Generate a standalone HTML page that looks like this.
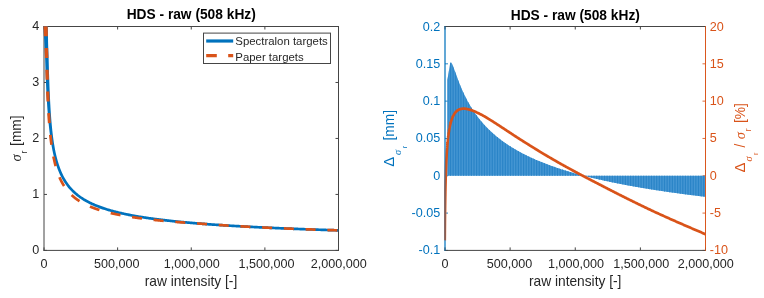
<!DOCTYPE html>
<html><head><meta charset="utf-8"><title>HDS - raw (508 kHz)</title>
<style>html,body{margin:0;padding:0;background:#fff}body{width:764px;height:298px;overflow:hidden}</style></head>
<body>
<svg width="764" height="298" viewBox="0 0 764 298" style="display:block">
<rect width="764" height="298" fill="#fff"/>
<defs>
<clipPath id="cl"><rect x="43.2" y="26.1" width="295.3" height="224.3"/></clipPath>
<clipPath id="cr"><rect x="444.2" y="26.0" width="261.3" height="224.4"/></clipPath>
<clipPath id="bars"><path d="M447.40 175.77 L447.40 80.00 L448.70 72.00 L450.10 63.60 L450.70 62.40 L451.20 62.60 L451.68 63.16 L451.77 63.33 L452.41 64.64 L453.04 66.16 L453.68 67.81 L454.32 69.53 L454.95 71.28 L455.59 73.05 L456.22 74.82 L456.86 76.56 L457.50 78.29 L458.13 79.98 L458.77 81.64 L459.40 83.27 L460.04 84.86 L460.68 86.41 L461.31 87.93 L461.95 89.41 L462.58 90.85 L463.22 92.26 L463.86 93.63 L464.49 94.97 L465.13 96.28 L465.76 97.56 L466.40 98.80 L467.03 100.02 L467.67 101.21 L468.31 102.37 L468.94 103.50 L469.58 104.61 L470.21 105.69 L470.85 106.75 L471.49 107.79 L472.12 108.80 L472.76 109.79 L473.39 110.77 L474.03 111.72 L474.67 112.65 L475.30 113.57 L475.94 114.46 L476.57 115.34 L477.21 116.20 L477.85 117.05 L478.48 117.88 L479.12 118.69 L479.75 119.49 L480.39 120.27 L481.02 121.04 L481.66 121.80 L482.30 122.54 L482.93 123.28 L483.57 123.99 L484.20 124.70 L484.84 125.40 L485.48 126.08 L486.11 126.75 L486.75 127.41 L487.38 128.07 L488.02 128.71 L488.66 129.34 L489.29 129.96 L489.93 130.57 L490.56 131.18 L491.20 131.77 L491.84 132.36 L492.47 132.93 L493.11 133.50 L493.74 134.06 L494.38 134.62 L495.01 135.16 L495.65 135.70 L496.29 136.23 L496.92 136.76 L497.56 137.27 L498.19 137.78 L498.83 138.29 L499.47 138.78 L500.10 139.27 L500.74 139.76 L501.37 140.24 L502.01 140.71 L502.65 141.18 L503.28 141.64 L503.92 142.09 L504.55 142.54 L505.19 142.99 L505.83 143.43 L506.46 143.86 L507.10 144.29 L507.73 144.71 L508.37 145.13 L509.00 145.55 L509.64 145.96 L510.28 146.37 L510.91 146.77 L511.55 147.16 L512.18 147.56 L512.82 147.94 L513.46 148.33 L514.09 148.71 L514.73 149.09 L515.36 149.46 L516.00 149.83 L516.64 150.19 L517.27 150.55 L517.91 150.91 L518.54 151.26 L519.18 151.61 L519.82 151.96 L520.45 152.31 L521.09 152.65 L521.72 152.98 L522.36 153.32 L522.99 153.65 L523.63 153.98 L524.27 154.30 L524.90 154.62 L525.54 154.94 L526.17 155.26 L526.81 155.57 L527.45 155.88 L528.08 156.19 L528.72 156.49 L529.35 156.79 L529.99 157.09 L530.63 157.39 L531.26 157.68 L531.90 157.97 L532.53 158.26 L533.17 158.55 L533.81 158.83 L534.44 159.11 L535.08 159.39 L535.71 159.67 L536.35 159.95 L536.98 160.22 L537.62 160.49 L538.26 160.76 L538.89 161.02 L539.53 161.29 L540.16 161.55 L540.80 161.81 L541.44 162.07 L542.07 162.32 L542.71 162.58 L543.34 162.83 L543.98 163.08 L544.62 163.32 L545.25 163.57 L545.89 163.82 L546.52 164.06 L547.16 164.30 L547.79 164.54 L548.43 164.77 L549.07 165.01 L549.70 165.24 L550.34 165.48 L550.97 165.71 L551.61 165.93 L552.25 166.16 L552.88 166.39 L553.52 166.61 L554.15 166.83 L554.79 167.05 L555.43 167.27 L556.06 167.49 L556.70 167.71 L557.33 167.92 L557.97 168.13 L558.61 168.35 L559.24 168.56 L559.88 168.77 L560.51 168.97 L561.15 169.18 L561.78 169.38 L562.42 169.59 L563.06 169.79 L563.69 169.99 L564.33 170.19 L564.96 170.39 L565.60 170.59 L566.24 170.78 L566.87 170.98 L567.51 171.17 L568.14 171.36 L568.78 171.55 L569.42 171.74 L570.05 171.93 L570.69 172.12 L571.32 172.30 L571.96 172.49 L572.60 172.67 L573.23 172.86 L573.87 173.04 L574.50 173.22 L575.14 173.40 L575.77 173.58 L576.41 173.75 L577.05 173.93 L577.68 174.11 L578.32 174.28 L578.95 174.45 L579.59 174.63 L580.23 174.80 L580.86 174.97 L581.50 175.14 L582.13 175.31 L582.77 175.47 L583.41 175.64 L584.04 175.81 L584.68 175.97 L585.31 176.13 L585.95 176.30 L586.59 176.46 L587.22 176.62 L587.86 176.78 L588.49 176.94 L589.13 177.10 L589.76 177.26 L590.40 177.41 L591.04 177.57 L591.67 177.72 L592.31 177.88 L592.94 178.03 L593.58 178.18 L594.22 178.34 L594.85 178.49 L595.49 178.64 L596.12 178.79 L596.76 178.94 L597.40 179.08 L598.03 179.23 L598.67 179.38 L599.30 179.52 L599.94 179.67 L600.58 179.81 L601.21 179.96 L601.85 180.10 L602.48 180.24 L603.12 180.38 L603.75 180.52 L604.39 180.66 L605.03 180.80 L605.66 180.94 L606.30 181.08 L606.93 181.22 L607.57 181.35 L608.21 181.49 L608.84 181.62 L609.48 181.76 L610.11 181.89 L610.75 182.03 L611.39 182.16 L612.02 182.29 L612.66 182.42 L613.29 182.55 L613.93 182.68 L614.57 182.81 L615.20 182.94 L615.84 183.07 L616.47 183.20 L617.11 183.33 L617.74 183.45 L618.38 183.58 L619.02 183.70 L619.65 183.83 L620.29 183.95 L620.92 184.08 L621.56 184.20 L622.20 184.32 L622.83 184.45 L623.47 184.57 L624.10 184.69 L624.74 184.81 L625.38 184.93 L626.01 185.05 L626.65 185.17 L627.28 185.29 L627.92 185.40 L628.56 185.52 L629.19 185.64 L629.83 185.75 L630.46 185.87 L631.10 185.99 L631.73 186.10 L632.37 186.21 L633.01 186.33 L633.64 186.44 L634.28 186.56 L634.91 186.67 L635.55 186.78 L636.19 186.89 L636.82 187.00 L637.46 187.11 L638.09 187.22 L638.73 187.33 L639.37 187.44 L640.00 187.55 L640.64 187.66 L641.27 187.77 L641.91 187.88 L642.55 187.98 L643.18 188.09 L643.82 188.20 L644.45 188.30 L645.09 188.41 L645.72 188.51 L646.36 188.62 L647.00 188.72 L647.63 188.82 L648.27 188.93 L648.90 189.03 L649.54 189.13 L650.18 189.24 L650.81 189.34 L651.45 189.44 L652.08 189.54 L652.72 189.64 L653.36 189.74 L653.99 189.84 L654.63 189.94 L655.26 190.04 L655.90 190.14 L656.54 190.24 L657.17 190.33 L657.81 190.43 L658.44 190.53 L659.08 190.62 L659.71 190.72 L660.35 190.82 L660.99 190.91 L661.62 191.01 L662.26 191.10 L662.89 191.20 L663.53 191.29 L664.17 191.39 L664.80 191.48 L665.44 191.57 L666.07 191.67 L666.71 191.76 L667.35 191.85 L667.98 191.94 L668.62 192.03 L669.25 192.13 L669.89 192.22 L670.53 192.31 L671.16 192.40 L671.80 192.49 L672.43 192.58 L673.07 192.67 L673.70 192.76 L674.34 192.85 L674.98 192.93 L675.61 193.02 L676.25 193.11 L676.88 193.20 L677.52 193.28 L678.16 193.37 L678.79 193.46 L679.43 193.54 L680.06 193.63 L680.70 193.72 L681.34 193.80 L681.97 193.89 L682.61 193.97 L683.24 194.06 L683.88 194.14 L684.52 194.22 L685.15 194.31 L685.79 194.39 L686.42 194.47 L687.06 194.56 L687.69 194.64 L688.33 194.72 L688.97 194.80 L689.60 194.89 L690.24 194.97 L690.87 195.05 L691.51 195.13 L692.15 195.21 L692.78 195.29 L693.42 195.37 L694.05 195.45 L694.69 195.53 L695.33 195.61 L695.96 195.69 L696.60 195.77 L697.23 195.85 L697.87 195.93 L698.51 196.00 L699.14 196.08 L699.78 196.16 L700.41 196.24 L701.05 196.31 L701.68 196.39 L702.32 196.47 L702.96 196.54 L703.59 196.62 L704.23 196.70 L704.86 196.77 L705.50 196.85 L705.50 175.77Z"/></clipPath>
</defs>
<g id="left-axes">
<path d="M44.0 26.0V250.9" stroke="#454545" stroke-width="1.00" fill="none"/>
<path d="M338.5 26.0V250.9" stroke="#454545" stroke-width="1.00" fill="none"/>
<path d="M44.0 250.40h3 M44.0 194.43h3 M44.0 138.45h3 M44.0 82.47h3 M44.0 26.50h3 " stroke="#454545" stroke-width="1.00" fill="none"/>
<path d="M338.5 250.40h-3 M338.5 194.43h-3 M338.5 138.45h-3 M338.5 82.47h-3 M338.5 26.50h-3 " stroke="#454545" stroke-width="1.00" fill="none"/>
<path d="M43.5 250.4H339.0 M43.5 26.5H339.0" stroke="#454545" stroke-width="1.00" fill="none"/>
<path d="M44.00 250.4v-3 M44.00 26.5v3 M117.62 250.4v-3 M117.62 26.5v3 M191.25 250.4v-3 M191.25 26.5v3 M264.88 250.4v-3 M264.88 26.5v3 M338.50 250.4v-3 M338.50 26.5v3 " stroke="#454545" stroke-width="1.00" fill="none"/>
</g>
<g clip-path="url(#cl)" stroke="none">
<path d="M42.53 -32.11 L42.57 -26.91 L42.62 -22.00 L42.66 -17.34 L42.71 -12.91 L42.75 -8.70 L42.80 -4.69 L42.85 -0.86 L42.89 2.80 L42.94 6.31 L42.98 9.66 L43.03 12.88 L43.07 15.98 L43.12 18.95 L43.16 21.81 L43.21 24.57 L43.31 27.23 L43.47 29.79 L43.63 32.27 L43.81 34.66 L44.00 36.98 L44.17 39.22 L44.33 41.39 L44.43 43.49 L44.52 45.53 L44.60 47.52 L44.69 49.44 L44.77 51.31 L44.86 53.13 L44.94 54.90 L45.02 56.62 L45.10 58.29 L45.18 59.93 L45.22 61.52 L45.27 63.07 L45.32 64.58 L45.36 66.06 L45.41 67.50 L45.45 68.91 L45.50 70.28 L45.55 71.63 L45.59 72.94 L45.64 74.23 L45.68 75.48 L45.73 76.71 L45.77 77.92 L45.82 79.10 L45.87 80.25 L45.91 81.38 L45.96 82.49 L46.00 83.58 L46.05 84.65 L46.09 85.69 L46.14 86.72 L46.19 87.72 L46.23 88.71 L46.28 89.68 L46.32 90.63 L46.37 91.57 L46.41 92.49 L46.46 93.39 L46.51 94.28 L46.55 95.15 L46.60 96.01 L46.65 96.85 L46.70 97.68 L46.74 98.50 L46.79 99.30 L46.84 100.09 L46.89 100.87 L46.93 101.63 L46.98 102.39 L47.02 103.13 L47.07 103.86 L47.12 104.58 L47.16 105.29 L47.21 105.99 L47.26 106.68 L47.30 107.36 L47.35 108.03 L47.40 108.68 L47.44 109.34 L47.49 109.98 L47.54 110.61 L47.58 111.23 L47.63 111.85 L47.67 112.46 L47.72 113.06 L47.77 113.65 L47.81 114.23 L47.86 114.81 L47.91 115.38 L47.95 115.94 L48.00 116.49 L48.04 117.04 L48.09 117.58 L48.14 118.12 L48.18 118.65 L48.23 119.17 L48.28 119.68 L48.32 120.19 L48.37 120.70 L48.41 121.19 L48.46 121.69 L48.51 122.17 L48.55 122.65 L48.60 123.13 L48.64 123.60 L48.69 124.06 L48.74 124.52 L48.78 124.97 L48.83 125.42 L48.87 125.87 L48.92 126.31 L48.97 126.74 L49.01 127.17 L49.06 127.60 L49.11 128.02 L49.15 128.44 L49.20 128.85 L49.24 129.26 L49.29 129.66 L49.34 130.07 L49.38 130.46 L49.43 130.85 L49.47 131.24 L49.52 131.63 L49.57 132.01 L49.61 132.39 L49.66 132.76 L49.70 133.13 L49.75 133.50 L49.80 133.86 L49.84 134.22 L49.89 134.58 L49.93 134.93 L49.98 135.28 L50.03 135.63 L50.07 135.97 L50.12 136.31 L50.16 136.65 L50.21 136.98 L50.26 137.31 L50.30 137.64 L50.35 137.97 L50.39 138.29 L50.44 138.61 L50.49 138.93 L50.53 139.24 L50.58 139.55 L50.62 139.86 L50.67 140.17 L50.72 140.47 L50.76 140.77 L50.81 141.07 L50.85 141.37 L50.90 141.66 L50.95 141.96 L50.99 142.24 L51.04 142.53 L51.08 142.82 L51.13 143.10 L51.18 143.38 L51.22 143.66 L51.27 143.93 L51.31 144.21 L51.36 144.48 L51.41 144.75 L51.45 145.01 L51.50 145.28 L51.54 145.54 L51.59 145.81 L51.64 146.06 L51.68 146.32 L51.73 146.58 L51.77 146.83 L51.82 147.08 L51.87 147.33 L51.91 147.58 L51.96 147.83 L52.00 148.07 L52.05 148.31 L52.10 148.56 L52.14 148.80 L52.19 149.03 L52.23 149.27 L52.28 149.50 L52.33 149.74 L52.37 149.97 L52.42 150.20 L52.46 150.42 L52.51 150.65 L52.55 150.88 L52.60 151.10 L52.65 151.32 L52.69 151.54 L52.74 151.76 L52.78 151.98 L52.83 152.20 L52.87 152.41 L52.92 152.62 L52.97 152.84 L53.01 153.05 L53.06 153.25 L53.10 153.46 L53.15 153.67 L53.19 153.87 L53.24 154.08 L53.29 154.28 L53.33 154.48 L53.38 154.68 L53.42 154.88 L53.47 155.08 L53.51 155.28 L53.56 155.47 L53.61 155.66 L53.65 155.86 L53.70 156.05 L53.74 156.24 L53.79 156.43 L53.83 156.62 L53.88 156.80 L53.93 156.99 L53.97 157.17 L54.02 157.36 L54.06 157.54 L54.11 157.72 L54.15 157.90 L54.20 158.08 L54.25 158.26 L54.29 158.44 L54.34 158.61 L54.38 158.79 L54.43 158.96 L54.48 159.14 L54.52 159.31 L54.57 159.48 L54.61 159.65 L54.66 159.82 L54.70 159.99 L54.75 160.16 L54.80 160.32 L54.84 160.49 L54.89 160.65 L54.93 160.82 L54.98 160.98 L55.02 161.14 L55.07 161.30 L55.12 161.46 L55.16 161.62 L55.21 161.78 L55.25 161.94 L55.30 162.10 L55.35 162.25 L55.39 162.41 L55.44 162.56 L55.48 162.72 L55.53 162.87 L55.58 163.02 L55.62 163.17 L55.67 163.32 L55.71 163.47 L55.76 163.62 L55.80 163.77 L55.85 163.92 L55.90 164.07 L55.94 164.21 L55.99 164.36 L56.03 164.50 L56.08 164.65 L56.13 164.79 L56.17 164.93 L56.22 165.07 L56.26 165.21 L56.31 165.35 L56.36 165.49 L56.40 165.63 L56.45 165.77 L56.49 165.91 L56.54 166.05 L56.59 166.18 L56.63 166.32 L56.68 166.45 L56.72 166.59 L56.77 166.72 L56.82 166.85 L56.86 166.99 L56.91 167.12 L56.95 167.25 L57.00 167.38 L57.04 167.51 L57.09 167.64 L57.14 167.77 L57.18 167.90 L57.23 168.02 L57.27 168.15 L57.32 168.28 L57.37 168.40 L57.41 168.53 L57.46 168.67 L58.17 170.51 L58.88 172.25 L59.60 173.88 L60.31 175.42 L61.03 176.86 L61.74 178.23 L62.46 179.53 L63.18 180.75 L63.89 181.92 L64.61 183.03 L65.33 184.09 L66.05 185.10 L66.77 186.07 L67.48 186.99 L68.20 187.88 L68.92 188.73 L69.64 189.55 L70.36 190.33 L71.08 191.09 L71.80 191.81 L72.52 192.52 L73.23 193.19 L73.95 193.85 L74.67 194.48 L75.39 195.09 L76.11 195.68 L76.82 196.25 L77.54 196.81 L78.26 197.35 L78.97 197.87 L79.69 198.38 L80.41 198.87 L81.12 199.35 L81.84 199.81 L82.55 200.26 L83.27 200.70 L83.98 201.13 L84.70 201.55 L85.41 201.96 L86.12 202.35 L86.84 202.74 L87.55 203.12 L88.26 203.49 L88.97 203.85 L89.69 204.20 L90.40 204.54 L91.11 204.88 L91.82 205.20 L92.53 205.53 L93.24 205.84 L93.95 206.15 L94.66 206.45 L95.37 206.74 L96.08 207.03 L96.79 207.32 L97.50 207.59 L98.21 207.87 L98.92 208.13 L99.63 208.40 L100.34 208.65 L101.05 208.91 L101.76 209.15 L102.46 209.40 L103.17 209.64 L103.88 209.87 L104.59 210.10 L105.30 210.33 L106.00 210.55 L106.71 210.77 L107.42 210.98 L108.13 211.20 L108.83 211.40 L109.54 211.61 L110.25 211.81 L110.95 212.01 L111.66 212.20 L112.36 212.40 L113.07 212.59 L113.78 212.77 L114.48 212.96 L115.19 213.14 L115.89 213.32 L116.60 213.49 L117.31 213.67 L118.01 213.84 L118.72 214.00 L119.42 214.17 L120.13 214.33 L120.83 214.50 L121.54 214.65 L122.24 214.81 L122.95 214.97 L123.65 215.12 L124.36 215.27 L125.06 215.42 L125.77 215.57 L126.47 215.71 L127.17 215.86 L127.88 216.00 L128.58 216.14 L129.29 216.27 L129.99 216.41 L130.70 216.55 L131.40 216.68 L132.10 216.81 L132.81 216.94 L133.51 217.07 L134.22 217.20 L134.92 217.32 L135.62 217.44 L136.33 217.57 L137.03 217.69 L137.73 217.81 L138.44 217.93 L139.14 218.04 L139.84 218.16 L140.55 218.27 L141.25 218.39 L141.96 218.50 L142.66 218.61 L143.36 218.72 L144.07 218.83 L144.77 218.94 L145.47 219.04 L146.17 219.15 L146.88 219.25 L147.58 219.36 L148.28 219.46 L148.99 219.56 L149.69 219.66 L150.39 219.76 L151.10 219.86 L151.80 219.95 L152.50 220.05 L153.21 220.15 L153.91 220.24 L154.61 220.33 L155.31 220.43 L156.02 220.52 L156.72 220.61 L157.42 220.70 L158.12 220.79 L158.83 220.88 L159.53 220.96 L160.23 221.05 L160.94 221.14 L161.64 221.22 L162.34 221.31 L163.04 221.39 L163.75 221.47 L164.45 221.55 L165.15 221.64 L165.85 221.72 L166.56 221.80 L167.26 221.88 L167.96 221.96 L168.66 222.03 L169.37 222.11 L170.07 222.19 L170.77 222.26 L171.47 222.34 L172.18 222.41 L172.88 222.49 L173.58 222.56 L174.28 222.64 L174.98 222.71 L175.69 222.78 L176.39 222.85 L177.09 222.92 L177.79 222.99 L178.50 223.06 L179.20 223.13 L179.90 223.20 L180.60 223.27 L181.30 223.34 L182.01 223.40 L182.71 223.47 L183.41 223.54 L184.11 223.60 L184.82 223.67 L185.52 223.73 L186.22 223.80 L186.92 223.86 L187.62 223.92 L188.33 223.98 L189.03 224.05 L189.73 224.11 L190.43 224.17 L191.13 224.23 L191.84 224.29 L192.54 224.35 L193.24 224.41 L193.94 224.47 L194.64 224.53 L195.35 224.59 L196.05 224.65 L196.75 224.70 L197.45 224.76 L198.15 224.82 L198.86 224.87 L199.56 224.93 L200.26 224.99 L200.96 225.04 L201.66 225.10 L202.36 225.15 L203.07 225.21 L203.77 225.26 L204.47 225.31 L205.17 225.37 L205.87 225.42 L206.58 225.47 L207.28 225.52 L207.98 225.57 L208.68 225.63 L209.38 225.68 L210.08 225.73 L210.79 225.78 L211.49 225.83 L212.19 225.88 L212.89 225.93 L213.59 225.98 L214.30 226.03 L215.00 226.08 L215.70 226.12 L216.40 226.17 L217.10 226.22 L217.80 226.27 L218.51 226.31 L219.21 226.36 L219.91 226.41 L220.61 226.45 L221.31 226.50 L222.01 226.55 L222.72 226.59 L223.42 226.64 L224.12 226.68 L224.82 226.73 L225.52 226.77 L226.22 226.82 L226.93 226.86 L227.63 226.90 L228.33 226.95 L229.03 226.99 L229.73 227.03 L230.43 227.08 L231.14 227.12 L231.84 227.16 L232.54 227.20 L233.24 227.24 L233.94 227.29 L234.64 227.33 L235.35 227.37 L236.05 227.41 L236.75 227.45 L237.45 227.49 L238.15 227.53 L238.85 227.57 L239.56 227.61 L240.26 227.65 L240.96 227.69 L241.66 227.73 L242.36 227.77 L243.06 227.81 L243.77 227.84 L244.47 227.88 L245.17 227.92 L245.87 227.96 L246.57 228.00 L247.27 228.03 L247.97 228.07 L248.68 228.11 L249.38 228.15 L250.08 228.18 L250.78 228.22 L251.48 228.26 L252.18 228.29 L252.89 228.33 L253.59 228.36 L254.29 228.40 L254.99 228.44 L255.69 228.47 L256.39 228.51 L257.09 228.54 L257.80 228.58 L258.50 228.61 L259.20 228.64 L259.90 228.68 L260.60 228.71 L261.30 228.75 L262.01 228.78 L262.71 228.81 L263.41 228.85 L264.11 228.88 L264.81 228.91 L265.51 228.95 L266.21 228.98 L266.92 229.01 L267.62 229.05 L268.32 229.08 L269.02 229.11 L269.72 229.14 L270.42 229.17 L271.12 229.21 L271.83 229.24 L272.53 229.27 L273.23 229.30 L273.93 229.33 L274.63 229.36 L275.33 229.39 L276.03 229.42 L276.74 229.46 L277.44 229.49 L278.14 229.52 L278.84 229.55 L279.54 229.58 L280.24 229.61 L280.95 229.64 L281.65 229.67 L282.35 229.70 L283.05 229.73 L283.75 229.75 L284.45 229.78 L285.15 229.81 L285.86 229.84 L286.56 229.87 L287.26 229.90 L287.96 229.93 L288.66 229.96 L289.36 229.98 L290.06 230.01 L290.77 230.04 L291.47 230.07 L292.17 230.10 L292.87 230.12 L293.57 230.15 L294.27 230.18 L294.97 230.21 L295.68 230.23 L296.38 230.26 L297.08 230.29 L297.78 230.32 L298.48 230.34 L299.18 230.37 L299.88 230.40 L300.58 230.42 L301.29 230.45 L301.99 230.47 L302.69 230.50 L303.39 230.53 L304.09 230.55 L304.79 230.58 L305.49 230.60 L306.20 230.63 L306.90 230.66 L307.60 230.68 L308.30 230.71 L309.00 230.73 L309.70 230.76 L310.40 230.78 L311.11 230.81 L311.81 230.83 L312.51 230.86 L313.21 230.88 L313.91 230.91 L314.61 230.93 L315.31 230.95 L316.02 230.98 L316.72 231.00 L317.42 231.03 L318.12 231.05 L318.82 231.08 L319.52 231.10 L320.22 231.12 L320.92 231.15 L321.63 231.17 L322.33 231.19 L323.03 231.22 L323.73 231.24 L324.43 231.26 L325.13 231.29 L325.83 231.31 L326.54 231.33 L327.24 231.36 L327.94 231.38 L328.64 231.40 L329.34 231.42 L330.04 231.45 L330.74 231.47 L331.45 231.49 L332.15 231.51 L332.85 231.54 L333.55 231.56 L334.25 231.58 L334.95 231.60 L335.65 231.62 L336.35 231.65 L337.06 231.67 L337.76 231.69 L338.46 231.71 L338.54 229.01 L337.84 228.99 L337.14 228.97 L336.44 228.95 L335.74 228.92 L335.04 228.90 L334.34 228.88 L333.63 228.86 L332.93 228.84 L332.23 228.81 L331.53 228.79 L330.83 228.77 L330.13 228.75 L329.43 228.72 L328.73 228.70 L328.03 228.68 L327.32 228.66 L326.62 228.63 L325.92 228.61 L325.22 228.59 L324.52 228.56 L323.82 228.54 L323.12 228.52 L322.42 228.50 L321.72 228.47 L321.02 228.45 L320.31 228.42 L319.61 228.40 L318.91 228.38 L318.21 228.35 L317.51 228.33 L316.81 228.30 L316.11 228.28 L315.41 228.26 L314.71 228.23 L314.01 228.21 L313.30 228.18 L312.60 228.16 L311.90 228.13 L311.20 228.11 L310.50 228.08 L309.80 228.06 L309.10 228.03 L308.40 228.01 L307.70 227.98 L307.00 227.96 L306.29 227.93 L305.59 227.91 L304.89 227.88 L304.19 227.86 L303.49 227.83 L302.79 227.80 L302.09 227.78 L301.39 227.75 L300.69 227.72 L299.99 227.70 L299.28 227.67 L298.58 227.64 L297.88 227.62 L297.18 227.59 L296.48 227.56 L295.78 227.54 L295.08 227.51 L294.38 227.48 L293.68 227.45 L292.98 227.43 L292.27 227.40 L291.57 227.37 L290.87 227.34 L290.17 227.32 L289.47 227.29 L288.77 227.26 L288.07 227.23 L287.37 227.20 L286.67 227.17 L285.97 227.14 L285.27 227.12 L284.56 227.09 L283.86 227.06 L283.16 227.03 L282.46 227.00 L281.76 226.97 L281.06 226.94 L280.36 226.91 L279.66 226.88 L278.96 226.85 L278.26 226.82 L277.55 226.79 L276.85 226.76 L276.15 226.73 L275.45 226.70 L274.75 226.67 L274.05 226.63 L273.35 226.60 L272.65 226.57 L271.95 226.54 L271.25 226.51 L270.55 226.48 L269.84 226.45 L269.14 226.41 L268.44 226.38 L267.74 226.35 L267.04 226.32 L266.34 226.28 L265.64 226.25 L264.94 226.22 L264.24 226.18 L263.54 226.15 L262.84 226.12 L262.14 226.08 L261.43 226.05 L260.73 226.02 L260.03 225.98 L259.33 225.95 L258.63 225.91 L257.93 225.88 L257.23 225.84 L256.53 225.81 L255.83 225.77 L255.13 225.74 L254.43 225.70 L253.72 225.67 L253.02 225.63 L252.32 225.60 L251.62 225.56 L250.92 225.52 L250.22 225.49 L249.52 225.45 L248.82 225.41 L248.12 225.38 L247.42 225.34 L246.72 225.30 L246.02 225.26 L245.31 225.23 L244.61 225.19 L243.91 225.15 L243.21 225.11 L242.51 225.07 L241.81 225.03 L241.11 224.99 L240.41 224.95 L239.71 224.91 L239.01 224.87 L238.31 224.83 L237.61 224.79 L236.91 224.75 L236.20 224.71 L235.50 224.67 L234.80 224.63 L234.10 224.59 L233.40 224.55 L232.70 224.51 L232.00 224.47 L231.30 224.42 L230.60 224.38 L229.90 224.34 L229.20 224.29 L228.50 224.25 L227.80 224.21 L227.09 224.16 L226.39 224.12 L225.69 224.08 L224.99 224.03 L224.29 223.99 L223.59 223.94 L222.89 223.90 L222.19 223.85 L221.49 223.81 L220.79 223.76 L220.09 223.71 L219.39 223.67 L218.69 223.62 L217.99 223.57 L217.29 223.53 L216.58 223.48 L215.88 223.43 L215.18 223.38 L214.48 223.33 L213.78 223.28 L213.08 223.24 L212.38 223.19 L211.68 223.14 L210.98 223.09 L210.28 223.04 L209.58 222.98 L208.88 222.93 L208.18 222.88 L207.48 222.83 L206.78 222.78 L206.08 222.73 L205.38 222.67 L204.67 222.62 L203.97 222.57 L203.27 222.51 L202.57 222.46 L201.87 222.40 L201.17 222.35 L200.47 222.29 L199.77 222.24 L199.07 222.18 L198.37 222.13 L197.67 222.07 L196.97 222.01 L196.27 221.96 L195.57 221.90 L194.87 221.84 L194.17 221.78 L193.47 221.72 L192.77 221.66 L192.07 221.60 L191.37 221.54 L190.67 221.48 L189.97 221.42 L189.27 221.36 L188.56 221.30 L187.86 221.23 L187.16 221.17 L186.46 221.11 L185.76 221.04 L185.06 220.98 L184.36 220.91 L183.66 220.85 L182.96 220.78 L182.26 220.72 L181.56 220.65 L180.86 220.58 L180.16 220.51 L179.46 220.44 L178.76 220.38 L178.06 220.31 L177.36 220.24 L176.66 220.17 L175.96 220.09 L175.26 220.02 L174.56 219.95 L173.86 219.88 L173.16 219.80 L172.46 219.73 L171.76 219.66 L171.06 219.58 L170.36 219.50 L169.66 219.43 L168.96 219.35 L168.26 219.27 L167.56 219.19 L166.86 219.11 L166.16 219.03 L165.46 218.95 L164.76 218.87 L164.06 218.79 L163.36 218.71 L162.66 218.62 L161.96 218.54 L161.26 218.46 L160.56 218.37 L159.86 218.28 L159.16 218.20 L158.46 218.11 L157.76 218.02 L157.06 217.93 L156.36 217.84 L155.66 217.75 L154.97 217.66 L154.27 217.56 L153.57 217.47 L152.87 217.37 L152.17 217.28 L151.47 217.18 L150.77 217.08 L150.07 216.99 L149.37 216.89 L148.67 216.79 L147.97 216.68 L147.27 216.58 L146.57 216.48 L145.87 216.37 L145.17 216.27 L144.48 216.16 L143.78 216.05 L143.08 215.94 L142.38 215.83 L141.68 215.72 L140.98 215.61 L140.28 215.50 L139.58 215.38 L138.88 215.26 L138.18 215.15 L137.49 215.03 L136.79 214.91 L136.09 214.79 L135.39 214.66 L134.69 214.54 L133.99 214.41 L133.29 214.28 L132.60 214.16 L131.90 214.03 L131.20 213.89 L130.50 213.76 L129.80 213.62 L129.11 213.49 L128.41 213.35 L127.71 213.21 L127.01 213.07 L126.31 212.92 L125.62 212.78 L124.92 212.63 L124.22 212.48 L123.52 212.33 L122.83 212.18 L122.13 212.02 L121.43 211.86 L120.73 211.70 L120.04 211.54 L119.34 211.38 L118.64 211.21 L117.94 211.04 L117.25 210.87 L116.55 210.70 L115.85 210.52 L115.16 210.34 L114.46 210.16 L113.77 209.98 L113.07 209.79 L112.37 209.60 L111.68 209.41 L110.98 209.21 L110.29 209.01 L109.59 208.81 L108.89 208.61 L108.20 208.40 L107.50 208.19 L106.81 207.97 L106.11 207.75 L105.42 207.53 L104.72 207.30 L104.03 207.07 L103.34 206.84 L102.64 206.60 L101.95 206.36 L101.25 206.11 L100.56 205.86 L99.87 205.60 L99.17 205.34 L98.48 205.08 L97.79 204.81 L97.09 204.53 L96.40 204.25 L95.71 203.96 L95.02 203.67 L94.33 203.37 L93.63 203.06 L92.94 202.75 L92.25 202.43 L91.56 202.10 L90.87 201.77 L90.18 201.43 L89.49 201.08 L88.80 200.72 L88.11 200.36 L87.42 199.99 L86.73 199.60 L86.05 199.21 L85.36 198.81 L84.67 198.40 L83.98 197.97 L83.29 197.54 L82.61 197.09 L81.92 196.63 L81.23 196.16 L80.55 195.68 L79.86 195.18 L79.18 194.66 L78.49 194.13 L77.81 193.58 L77.12 193.02 L76.44 192.44 L75.75 191.84 L75.07 191.21 L74.38 190.57 L73.70 189.90 L73.02 189.21 L72.33 188.49 L71.65 187.74 L70.97 186.97 L70.28 186.16 L69.60 185.31 L68.92 184.43 L68.23 183.51 L67.55 182.55 L66.86 181.54 L66.18 180.48 L65.49 179.37 L64.81 178.19 L64.12 176.95 L63.43 175.64 L62.75 174.25 L62.06 172.77 L61.37 171.20 L60.68 169.52 L59.99 167.70 L59.95 167.59 L59.90 167.47 L59.86 167.35 L59.81 167.23 L59.77 167.11 L59.72 166.98 L59.68 166.86 L59.63 166.73 L59.59 166.61 L59.54 166.48 L59.50 166.35 L59.46 166.23 L59.41 166.10 L59.37 165.97 L59.32 165.84 L59.28 165.71 L59.23 165.58 L59.19 165.45 L59.14 165.32 L59.10 165.18 L59.05 165.05 L59.01 164.92 L58.96 164.78 L58.92 164.65 L58.88 164.51 L58.83 164.38 L58.79 164.24 L58.74 164.10 L58.70 163.96 L58.65 163.82 L58.61 163.68 L58.56 163.54 L58.52 163.40 L58.47 163.26 L58.43 163.12 L58.38 162.97 L58.34 162.83 L58.29 162.68 L58.25 162.54 L58.20 162.39 L58.16 162.24 L58.11 162.09 L58.07 161.94 L58.03 161.79 L57.98 161.64 L57.94 161.49 L57.89 161.34 L57.85 161.19 L57.80 161.03 L57.76 160.88 L57.71 160.72 L57.67 160.56 L57.62 160.41 L57.58 160.25 L57.53 160.09 L57.49 159.93 L57.44 159.77 L57.40 159.61 L57.35 159.44 L57.31 159.28 L57.26 159.11 L57.22 158.95 L57.17 158.78 L57.13 158.61 L57.08 158.45 L57.04 158.28 L57.00 158.11 L56.95 157.93 L56.91 157.76 L56.86 157.59 L56.82 157.41 L56.77 157.24 L56.73 157.06 L56.68 156.88 L56.64 156.70 L56.59 156.52 L56.55 156.34 L56.50 156.16 L56.46 155.98 L56.41 155.79 L56.37 155.61 L56.32 155.42 L56.28 155.23 L56.23 155.04 L56.19 154.85 L56.14 154.66 L56.10 154.47 L56.05 154.27 L56.01 154.08 L55.96 153.88 L55.92 153.68 L55.87 153.49 L55.83 153.29 L55.78 153.08 L55.74 152.88 L55.69 152.68 L55.65 152.47 L55.60 152.26 L55.56 152.06 L55.51 151.85 L55.47 151.64 L55.42 151.42 L55.38 151.21 L55.33 150.99 L55.29 150.78 L55.24 150.56 L55.20 150.34 L55.15 150.12 L55.11 149.89 L55.07 149.67 L55.02 149.44 L54.98 149.21 L54.94 148.98 L54.89 148.75 L54.85 148.52 L54.81 148.29 L54.77 148.05 L54.72 147.81 L54.68 147.57 L54.64 147.33 L54.60 147.09 L54.55 146.84 L54.51 146.59 L54.47 146.35 L54.42 146.09 L54.38 145.84 L54.34 145.59 L54.30 145.33 L54.25 145.07 L54.21 144.81 L54.17 144.55 L54.13 144.29 L54.08 144.02 L54.04 143.75 L54.00 143.48 L53.96 143.21 L53.91 142.93 L53.87 142.65 L53.83 142.38 L53.79 142.09 L53.74 141.81 L53.70 141.52 L53.66 141.23 L53.62 140.94 L53.58 140.65 L53.53 140.35 L53.49 140.05 L53.45 139.75 L53.41 139.45 L53.36 139.14 L53.32 138.84 L53.28 138.52 L53.24 138.21 L53.20 137.89 L53.15 137.57 L53.11 137.25 L53.07 136.92 L53.03 136.60 L52.99 136.26 L52.94 135.93 L52.90 135.59 L52.86 135.25 L52.82 134.91 L52.78 134.56 L52.74 134.21 L52.69 133.86 L52.65 133.50 L52.61 133.14 L52.57 132.78 L52.53 132.41 L52.49 132.04 L52.44 131.66 L52.40 131.29 L52.36 130.90 L52.32 130.52 L52.28 130.13 L52.24 129.73 L52.19 129.34 L52.15 128.93 L52.11 128.53 L52.07 128.12 L52.03 127.70 L51.99 127.29 L51.95 126.86 L51.91 126.43 L51.87 126.00 L51.82 125.57 L51.78 125.12 L51.74 124.68 L51.70 124.23 L51.66 123.77 L51.62 123.31 L51.58 122.84 L51.54 122.37 L51.50 121.89 L51.46 121.41 L51.42 120.92 L51.38 120.42 L51.34 119.92 L51.30 119.42 L51.26 118.90 L51.21 118.38 L51.17 117.86 L51.13 117.33 L51.09 116.79 L51.05 116.24 L51.01 115.69 L50.97 115.13 L50.93 114.56 L50.89 113.99 L50.86 113.41 L50.82 112.82 L50.78 112.22 L50.74 111.62 L50.70 111.01 L50.66 110.38 L50.62 109.75 L50.58 109.11 L50.54 108.47 L50.50 107.81 L50.46 107.14 L50.42 106.47 L50.39 105.78 L50.35 105.08 L50.31 104.38 L50.27 103.66 L50.23 102.93 L50.19 102.19 L50.15 101.44 L50.12 100.68 L50.08 99.90 L50.04 99.12 L50.00 98.31 L49.96 97.50 L49.92 96.67 L49.89 95.83 L49.85 94.98 L49.81 94.11 L49.77 93.22 L49.73 92.32 L49.69 91.41 L49.64 90.47 L49.60 89.52 L49.56 88.56 L49.52 87.57 L49.48 86.57 L49.45 85.55 L49.41 84.50 L49.37 83.44 L49.33 82.35 L49.29 81.25 L49.25 80.12 L49.21 78.97 L49.17 77.79 L49.13 76.59 L49.09 75.36 L49.05 74.11 L49.02 72.82 L48.98 71.51 L48.94 70.17 L48.90 68.80 L48.86 67.39 L48.83 65.95 L48.79 64.48 L48.75 62.97 L48.71 61.42 L48.68 59.83 L48.62 58.20 L48.55 56.52 L48.49 54.81 L48.43 53.04 L48.37 51.22 L48.31 49.35 L48.24 47.43 L48.18 45.45 L48.11 43.41 L48.06 41.31 L48.04 39.14 L48.00 36.90 L47.96 34.58 L47.91 32.19 L47.84 29.71 L47.77 27.15 L47.71 24.49 L47.66 21.74 L47.62 18.88 L47.57 15.91 L47.53 12.82 L47.48 9.60 L47.44 6.25 L47.39 2.75 L47.34 -0.91 L47.30 -4.74 L47.25 -8.75 L47.21 -12.96 L47.16 -17.38 L47.12 -22.04 L47.07 -26.95 L47.03 -32.15Z" fill="#0072BD"/>
<path d="M42.53 -35.23 L42.53 -34.98 L42.53 -34.73 L42.53 -34.48 L42.54 -34.23 L42.54 -33.98 L42.54 -33.73 L42.54 -33.48 L42.54 -33.23 L42.55 -32.98 L42.55 -32.73 L42.55 -32.48 L42.55 -32.23 L42.55 -31.98 L42.56 -31.73 L42.56 -31.48 L42.56 -31.23 L42.56 -30.98 L42.56 -30.73 L42.56 -30.48 L42.57 -30.23 L42.57 -29.98 L42.57 -29.73 L42.57 -29.48 L42.57 -29.23 L42.58 -28.98 L47.08 -29.02 L47.07 -29.27 L47.07 -29.52 L47.07 -29.77 L47.07 -30.02 L47.07 -30.27 L47.06 -30.52 L47.06 -30.77 L47.06 -31.02 L47.06 -31.27 L47.06 -31.52 L47.05 -31.77 L47.05 -32.02 L47.05 -32.27 L47.05 -32.52 L47.05 -32.77 L47.05 -33.02 L47.04 -33.27 L47.04 -33.52 L47.04 -33.77 L47.04 -34.02 L47.04 -34.27 L47.03 -34.52 L47.03 -34.77 L47.03 -35.02 L47.03 -35.27Z M42.68 -17.23 L42.68 -16.98 L42.68 -16.73 L42.68 -16.48 L42.69 -16.23 L42.69 -15.98 L42.69 -15.73 L42.69 -15.48 L42.69 -15.23 L42.70 -14.98 L42.70 -14.73 L42.70 -14.48 L42.70 -14.23 L42.71 -13.98 L42.71 -13.73 L42.71 -13.48 L42.71 -13.23 L42.72 -12.98 L42.72 -12.73 L42.72 -12.48 L42.72 -12.23 L42.72 -11.98 L42.73 -11.73 L42.73 -11.48 L42.73 -11.23 L42.73 -10.98 L42.74 -10.73 L42.74 -10.48 L42.74 -10.23 L42.74 -9.98 L42.75 -9.73 L42.75 -9.48 L42.75 -9.23 L42.75 -8.98 L42.76 -8.73 L42.76 -8.48 L42.76 -8.23 L42.76 -7.98 L42.77 -7.73 L42.77 -7.48 L42.77 -7.23 L47.27 -7.27 L47.27 -7.52 L47.27 -7.77 L47.26 -8.02 L47.26 -8.27 L47.26 -8.52 L47.26 -8.77 L47.25 -9.02 L47.25 -9.27 L47.25 -9.52 L47.25 -9.77 L47.24 -10.02 L47.24 -10.27 L47.24 -10.52 L47.24 -10.77 L47.23 -11.02 L47.23 -11.27 L47.23 -11.52 L47.23 -11.77 L47.22 -12.02 L47.22 -12.27 L47.22 -12.52 L47.22 -12.77 L47.21 -13.02 L47.21 -13.27 L47.21 -13.52 L47.21 -13.77 L47.21 -14.02 L47.20 -14.27 L47.20 -14.52 L47.20 -14.77 L47.20 -15.02 L47.19 -15.27 L47.19 -15.52 L47.19 -15.77 L47.19 -16.02 L47.18 -16.27 L47.18 -16.52 L47.18 -16.77 L47.18 -17.02 L47.18 -17.27Z M42.90 4.52 L42.90 4.77 L42.90 5.02 L42.91 5.27 L42.91 5.52 L42.91 5.77 L42.91 6.02 L42.92 6.27 L42.92 6.52 L42.92 6.77 L42.93 7.02 L42.93 7.27 L42.93 7.52 L42.94 7.77 L42.94 8.03 L42.94 8.28 L42.94 8.53 L42.95 8.78 L42.95 9.03 L42.95 9.28 L42.96 9.53 L42.96 9.78 L42.96 10.03 L42.97 10.28 L42.97 10.52 L42.97 10.77 L42.97 11.02 L42.98 11.27 L42.98 11.53 L42.98 11.78 L42.99 12.03 L42.99 12.28 L42.99 12.53 L43.00 12.78 L43.00 13.03 L43.00 13.28 L43.01 13.53 L43.01 13.78 L43.01 14.03 L43.02 14.28 L43.02 14.53 L47.52 14.47 L47.52 14.22 L47.51 13.97 L47.51 13.72 L47.51 13.47 L47.50 13.22 L47.50 12.97 L47.50 12.72 L47.49 12.47 L47.49 12.22 L47.49 11.97 L47.48 11.72 L47.48 11.47 L47.48 11.22 L47.47 10.97 L47.47 10.72 L47.47 10.47 L47.47 10.22 L47.46 9.97 L47.46 9.72 L47.46 9.47 L47.45 9.22 L47.45 8.97 L47.45 8.72 L47.44 8.47 L47.44 8.22 L47.44 7.97 L47.43 7.72 L47.43 7.47 L47.43 7.22 L47.43 6.97 L47.42 6.72 L47.42 6.47 L47.42 6.22 L47.41 5.97 L47.41 5.72 L47.41 5.47 L47.41 5.22 L47.40 4.97 L47.40 4.72 L47.40 4.47Z M43.19 26.28 L43.21 26.53 L43.22 26.78 L43.24 27.03 L43.25 27.28 L43.27 27.53 L43.28 27.78 L43.30 28.03 L43.31 28.28 L43.33 28.53 L43.34 28.78 L43.36 29.03 L43.38 29.28 L43.39 29.53 L43.41 29.78 L43.42 30.03 L43.44 30.28 L43.45 30.53 L43.47 30.78 L43.48 31.03 L43.50 31.28 L43.51 31.53 L43.53 31.78 L43.54 32.03 L43.56 32.28 L43.58 32.53 L43.60 32.78 L43.62 33.03 L43.64 33.28 L43.66 33.53 L43.67 33.78 L43.69 34.03 L43.71 34.28 L43.73 34.53 L43.75 34.78 L43.77 35.03 L43.79 35.28 L43.81 35.53 L43.82 35.78 L43.84 36.03 L43.86 36.28 L47.91 36.21 L47.90 35.96 L47.90 35.71 L47.90 35.46 L47.89 35.21 L47.89 34.96 L47.88 34.71 L47.88 34.46 L47.88 34.21 L47.87 33.96 L47.87 33.71 L47.86 33.46 L47.86 33.21 L47.86 32.96 L47.85 32.71 L47.85 32.46 L47.85 32.21 L47.84 31.96 L47.84 31.71 L47.83 31.46 L47.82 31.21 L47.81 30.96 L47.81 30.71 L47.80 30.46 L47.79 30.21 L47.79 29.96 L47.78 29.71 L47.77 29.46 L47.77 29.21 L47.76 28.96 L47.75 28.71 L47.75 28.46 L47.74 28.21 L47.73 27.96 L47.73 27.71 L47.72 27.46 L47.71 27.21 L47.71 26.96 L47.70 26.71 L47.69 26.46 L47.68 26.21Z M44.51 48.03 L44.52 48.28 L44.53 48.53 L44.54 48.78 L44.55 49.03 L44.56 49.28 L44.57 49.53 L44.58 49.78 L44.60 50.03 L44.61 50.28 L44.62 50.53 L44.63 50.78 L44.64 51.03 L44.65 51.28 L44.66 51.53 L44.67 51.78 L44.68 52.03 L44.69 52.28 L44.70 52.53 L44.71 52.78 L44.72 53.03 L44.73 53.28 L44.74 53.53 L44.75 53.78 L44.76 54.03 L44.77 54.28 L44.78 54.53 L44.79 54.78 L44.80 55.03 L44.82 55.28 L44.83 55.53 L44.84 55.78 L44.85 56.03 L44.86 56.28 L44.87 56.53 L44.88 56.78 L44.89 57.03 L44.90 57.28 L44.91 57.53 L44.92 57.78 L44.93 58.03 L48.46 57.95 L48.45 57.70 L48.44 57.45 L48.43 57.20 L48.42 56.95 L48.42 56.70 L48.41 56.45 L48.40 56.20 L48.39 55.95 L48.38 55.70 L48.38 55.45 L48.37 55.20 L48.36 54.95 L48.35 54.70 L48.34 54.45 L48.34 54.20 L48.33 53.95 L48.32 53.70 L48.31 53.45 L48.30 53.20 L48.30 52.95 L48.29 52.70 L48.28 52.45 L48.27 52.20 L48.27 51.95 L48.26 51.70 L48.25 51.45 L48.24 51.20 L48.24 50.95 L48.23 50.70 L48.22 50.46 L48.21 50.21 L48.21 49.96 L48.20 49.71 L48.19 49.46 L48.18 49.21 L48.18 48.96 L48.17 48.71 L48.16 48.46 L48.15 48.21 L48.15 47.96Z M45.28 69.79 L45.29 70.04 L45.29 70.28 L45.30 70.53 L45.31 70.78 L45.32 71.03 L45.32 71.29 L45.33 71.54 L45.34 71.79 L45.34 72.04 L45.35 72.29 L45.36 72.54 L45.37 72.79 L45.37 73.04 L45.38 73.29 L45.39 73.54 L45.40 73.79 L45.40 74.04 L45.41 74.29 L45.42 74.54 L45.43 74.79 L45.43 75.04 L45.44 75.29 L45.45 75.54 L45.46 75.79 L45.47 76.04 L45.47 76.29 L45.48 76.54 L45.49 76.79 L45.50 77.04 L45.50 77.29 L45.51 77.54 L45.52 77.79 L45.53 78.04 L45.54 78.29 L45.55 78.54 L45.55 78.79 L45.56 79.04 L45.57 79.29 L45.58 79.54 L45.59 79.79 L48.97 79.68 L48.97 79.43 L48.96 79.18 L48.95 78.93 L48.94 78.68 L48.94 78.43 L48.93 78.18 L48.92 77.93 L48.92 77.68 L48.91 77.43 L48.90 77.18 L48.90 76.93 L48.89 76.68 L48.89 76.43 L48.88 76.18 L48.87 75.93 L48.87 75.68 L48.86 75.43 L48.85 75.18 L48.85 74.93 L48.84 74.68 L48.83 74.43 L48.83 74.18 L48.82 73.93 L48.82 73.68 L48.81 73.43 L48.80 73.18 L48.80 72.93 L48.79 72.69 L48.79 72.44 L48.78 72.19 L48.77 71.94 L48.77 71.69 L48.76 71.44 L48.76 71.19 L48.75 70.94 L48.75 70.69 L48.74 70.44 L48.73 70.19 L48.73 69.94 L48.72 69.69Z M46.02 91.54 L46.03 91.79 L46.04 92.04 L46.05 92.29 L46.06 92.54 L46.07 92.79 L46.08 93.04 L46.09 93.29 L46.10 93.54 L46.12 93.79 L46.13 94.04 L46.14 94.29 L46.15 94.54 L46.16 94.79 L46.17 95.04 L46.18 95.29 L46.19 95.54 L46.20 95.79 L46.22 96.04 L46.23 96.29 L46.24 96.54 L46.25 96.79 L46.26 97.04 L46.28 97.29 L46.29 97.54 L46.30 97.79 L46.31 98.04 L46.32 98.29 L46.34 98.54 L46.35 98.79 L46.36 99.04 L46.37 99.29 L46.39 99.54 L46.40 99.79 L46.41 100.04 L46.42 100.29 L46.44 100.54 L46.45 100.79 L46.46 101.04 L46.47 101.29 L46.49 101.54 L49.71 101.38 L49.70 101.14 L49.69 100.89 L49.68 100.64 L49.67 100.39 L49.66 100.14 L49.65 99.89 L49.64 99.64 L49.63 99.39 L49.62 99.14 L49.61 98.89 L49.60 98.64 L49.60 98.39 L49.59 98.14 L49.58 97.89 L49.57 97.64 L49.56 97.39 L49.55 97.15 L49.54 96.90 L49.53 96.65 L49.52 96.40 L49.51 96.15 L49.50 95.90 L49.49 95.65 L49.48 95.40 L49.48 95.15 L49.47 94.90 L49.46 94.65 L49.45 94.40 L49.44 94.15 L49.43 93.90 L49.42 93.65 L49.41 93.40 L49.40 93.15 L49.39 92.90 L49.38 92.65 L49.37 92.40 L49.36 92.16 L49.36 91.91 L49.35 91.66 L49.34 91.41Z M47.16 113.29 L47.17 113.54 L47.19 113.79 L47.20 114.04 L47.22 114.29 L47.24 114.54 L47.25 114.79 L47.27 115.04 L47.29 115.29 L47.30 115.54 L47.32 115.79 L47.34 116.04 L47.35 116.29 L47.37 116.54 L47.39 116.79 L47.41 117.04 L47.42 117.29 L47.44 117.54 L47.46 117.79 L47.48 118.04 L47.49 118.29 L47.51 118.54 L47.53 118.79 L47.55 119.04 L47.57 119.29 L47.58 119.54 L47.60 119.79 L47.62 120.04 L47.64 120.29 L47.66 120.54 L47.68 120.79 L47.70 121.04 L47.72 121.29 L47.73 121.54 L47.75 121.79 L47.77 122.04 L47.79 122.29 L47.81 122.54 L47.83 122.79 L47.85 123.04 L47.87 123.29 L50.85 123.06 L50.84 122.81 L50.82 122.56 L50.80 122.31 L50.79 122.06 L50.77 121.81 L50.75 121.56 L50.74 121.31 L50.72 121.06 L50.70 120.82 L50.69 120.57 L50.67 120.32 L50.66 120.07 L50.64 119.82 L50.63 119.57 L50.61 119.32 L50.59 119.07 L50.58 118.83 L50.56 118.58 L50.55 118.33 L50.53 118.08 L50.52 117.83 L50.50 117.58 L50.49 117.33 L50.47 117.08 L50.46 116.83 L50.45 116.59 L50.43 116.34 L50.42 116.09 L50.40 115.84 L50.39 115.59 L50.37 115.34 L50.36 115.09 L50.35 114.84 L50.33 114.59 L50.32 114.34 L50.30 114.10 L50.29 113.85 L50.28 113.60 L50.26 113.35 L50.25 113.10Z M48.95 135.02 L48.98 135.27 L49.01 135.52 L49.03 135.77 L49.06 136.02 L49.09 136.27 L49.11 136.52 L49.14 136.77 L49.17 137.02 L49.20 137.27 L49.23 137.52 L49.25 137.77 L49.28 138.01 L49.31 138.26 L49.34 138.51 L49.37 138.76 L49.40 139.01 L49.43 139.26 L49.46 139.51 L49.49 139.76 L49.52 140.01 L49.55 140.26 L49.58 140.51 L49.61 140.76 L49.64 141.01 L49.67 141.25 L49.70 141.50 L49.73 141.75 L49.76 142.00 L49.80 142.25 L49.83 142.50 L49.86 142.75 L49.89 143.00 L49.93 143.25 L49.96 143.50 L49.99 143.74 L50.03 143.99 L50.06 144.24 L50.09 144.49 L50.13 144.74 L50.16 144.99 L52.89 144.61 L52.86 144.37 L52.83 144.12 L52.80 143.87 L52.77 143.63 L52.74 143.38 L52.71 143.13 L52.68 142.89 L52.65 142.64 L52.62 142.39 L52.59 142.15 L52.56 141.90 L52.53 141.65 L52.50 141.41 L52.47 141.16 L52.45 140.91 L52.42 140.66 L52.39 140.42 L52.36 140.17 L52.34 139.92 L52.31 139.68 L52.28 139.43 L52.25 139.18 L52.23 138.93 L52.20 138.69 L52.17 138.44 L52.15 138.19 L52.12 137.94 L52.10 137.70 L52.07 137.45 L52.05 137.20 L52.02 136.95 L52.00 136.71 L51.97 136.46 L51.95 136.21 L51.92 135.96 L51.90 135.72 L51.87 135.47 L51.85 135.22 L51.83 134.97 L51.80 134.72Z M52.09 156.66 L52.13 156.90 L52.18 157.15 L52.23 157.40 L52.28 157.64 L52.33 157.89 L52.38 158.14 L52.43 158.38 L52.48 158.63 L52.54 158.88 L52.59 159.12 L52.64 159.37 L52.69 159.62 L52.75 159.86 L52.80 160.11 L52.86 160.36 L52.91 160.60 L52.97 160.85 L53.02 161.10 L53.08 161.34 L53.13 161.59 L53.19 161.83 L53.25 162.08 L53.31 162.33 L53.37 162.57 L53.42 162.82 L53.48 163.06 L53.54 163.31 L53.60 163.55 L53.66 163.80 L53.73 164.04 L53.79 164.29 L53.85 164.53 L53.91 164.78 L53.98 165.02 L54.04 165.27 L54.11 165.51 L54.17 165.76 L54.24 166.00 L54.30 166.25 L54.37 166.49 L56.97 165.78 L56.91 165.54 L56.84 165.30 L56.78 165.06 L56.71 164.82 L56.65 164.58 L56.59 164.34 L56.53 164.11 L56.47 163.87 L56.40 163.63 L56.34 163.39 L56.28 163.15 L56.22 162.91 L56.17 162.67 L56.11 162.43 L56.05 162.19 L55.99 161.95 L55.93 161.70 L55.88 161.46 L55.82 161.22 L55.77 160.98 L55.71 160.74 L55.65 160.50 L55.60 160.26 L55.55 160.02 L55.49 159.77 L55.44 159.53 L55.39 159.29 L55.33 159.05 L55.28 158.81 L55.23 158.56 L55.18 158.32 L55.13 158.08 L55.08 157.84 L55.03 157.59 L54.98 157.35 L54.93 157.11 L54.88 156.87 L54.83 156.62 L54.78 156.38 L54.73 156.13Z M58.25 177.78 L58.35 178.01 L58.45 178.24 L58.55 178.47 L58.66 178.70 L58.76 178.92 L58.86 179.16 L58.97 179.41 L59.08 179.64 L59.19 179.86 L59.30 180.09 L59.40 180.32 L59.51 180.54 L59.63 180.79 L59.74 181.02 L59.86 181.25 L59.97 181.47 L60.08 181.69 L60.19 181.92 L60.31 182.15 L60.44 182.39 L60.56 182.61 L60.68 182.83 L60.80 183.05 L60.91 183.27 L61.04 183.51 L61.17 183.74 L61.30 183.96 L61.42 184.17 L61.54 184.39 L61.67 184.61 L61.80 184.84 L61.94 185.07 L62.07 185.28 L62.20 185.50 L62.33 185.71 L62.46 185.94 L62.61 186.16 L62.74 186.38 L62.88 186.59 L63.01 186.80 L65.29 185.34 L65.15 185.13 L65.02 184.92 L64.88 184.71 L64.76 184.52 L64.64 184.31 L64.51 184.10 L64.38 183.89 L64.25 183.67 L64.13 183.47 L64.01 183.27 L63.89 183.05 L63.76 182.84 L63.64 182.62 L63.52 182.40 L63.40 182.20 L63.29 182.00 L63.17 181.78 L63.06 181.56 L62.94 181.33 L62.82 181.12 L62.71 180.91 L62.61 180.70 L62.49 180.48 L62.38 180.25 L62.27 180.03 L62.16 179.81 L62.05 179.60 L61.95 179.39 L61.84 179.16 L61.74 178.94 L61.63 178.71 L61.52 178.49 L61.42 178.27 L61.32 178.05 L61.23 177.84 L61.13 177.61 L61.03 177.38 L60.92 177.15 L60.82 176.92 L60.72 176.69Z M70.72 196.06 L70.91 196.23 L71.10 196.41 L71.29 196.59 L71.48 196.76 L71.66 196.93 L71.86 197.10 L72.06 197.27 L72.25 197.44 L72.44 197.60 L72.64 197.78 L72.84 197.94 L73.03 198.10 L73.23 198.27 L73.43 198.43 L73.63 198.59 L73.82 198.75 L74.03 198.91 L74.23 199.07 L74.43 199.23 L74.63 199.38 L74.84 199.54 L75.04 199.69 L75.24 199.84 L75.45 200.00 L75.66 200.15 L75.87 200.30 L76.07 200.45 L76.29 200.60 L76.50 200.75 L76.70 200.89 L76.91 201.04 L77.13 201.19 L77.34 201.33 L77.55 201.47 L77.77 201.62 L77.98 201.76 L78.19 201.89 L78.41 202.04 L78.62 202.17 L78.83 202.31 L80.28 200.03 L80.07 199.90 L79.87 199.77 L79.67 199.63 L79.46 199.50 L79.25 199.36 L79.05 199.23 L78.85 199.09 L78.65 198.95 L78.45 198.82 L78.25 198.68 L78.05 198.54 L77.84 198.40 L77.65 198.26 L77.45 198.12 L77.25 197.97 L77.06 197.83 L76.87 197.69 L76.67 197.54 L76.47 197.39 L76.28 197.24 L76.09 197.09 L75.89 196.94 L75.70 196.79 L75.52 196.64 L75.32 196.49 L75.13 196.33 L74.95 196.18 L74.76 196.03 L74.57 195.87 L74.38 195.71 L74.20 195.56 L74.02 195.40 L73.83 195.23 L73.65 195.08 L73.47 194.92 L73.29 194.75 L73.10 194.59 L72.93 194.43 L72.75 194.26 L72.57 194.09Z M89.46 207.79 L89.70 207.89 L89.93 207.99 L90.16 208.09 L90.40 208.18 L90.64 208.28 L90.87 208.37 L91.10 208.47 L91.34 208.56 L91.58 208.66 L91.81 208.75 L92.05 208.84 L92.28 208.93 L92.52 209.02 L92.76 209.11 L93.00 209.20 L93.23 209.29 L93.47 209.38 L93.71 209.47 L93.94 209.56 L94.18 209.64 L94.42 209.73 L94.66 209.81 L94.90 209.90 L95.14 209.98 L95.37 210.07 L95.62 210.15 L95.85 210.23 L96.09 210.32 L96.33 210.40 L96.57 210.48 L96.81 210.56 L97.05 210.64 L97.29 210.72 L97.53 210.80 L97.77 210.88 L98.01 210.95 L98.25 211.03 L98.49 211.11 L98.73 211.19 L98.97 211.26 L99.79 208.69 L99.55 208.61 L99.31 208.54 L99.08 208.46 L98.84 208.39 L98.61 208.31 L98.37 208.23 L98.14 208.16 L97.90 208.08 L97.67 208.00 L97.44 207.92 L97.20 207.84 L96.97 207.76 L96.73 207.68 L96.50 207.60 L96.27 207.52 L96.03 207.44 L95.80 207.35 L95.57 207.27 L95.34 207.19 L95.10 207.10 L94.87 207.02 L94.64 206.93 L94.41 206.85 L94.18 206.76 L93.95 206.68 L93.72 206.59 L93.49 206.50 L93.26 206.41 L93.02 206.32 L92.80 206.24 L92.57 206.14 L92.34 206.05 L92.11 205.96 L91.88 205.87 L91.65 205.78 L91.42 205.69 L91.20 205.59 L90.97 205.50 L90.74 205.40 L90.51 205.31Z M110.41 214.38 L110.65 214.43 L110.90 214.49 L111.14 214.55 L111.39 214.60 L111.63 214.66 L111.88 214.72 L112.12 214.77 L112.37 214.83 L112.61 214.88 L112.86 214.94 L113.10 214.99 L113.35 215.04 L113.59 215.10 L113.84 215.15 L114.09 215.21 L114.33 215.26 L114.58 215.31 L114.83 215.36 L115.07 215.42 L115.32 215.47 L115.56 215.52 L115.81 215.57 L116.06 215.62 L116.30 215.67 L116.55 215.72 L116.79 215.77 L117.04 215.82 L117.29 215.87 L117.53 215.92 L117.78 215.97 L118.03 216.02 L118.27 216.07 L118.52 216.12 L118.77 216.17 L119.01 216.22 L119.26 216.26 L119.51 216.31 L119.75 216.36 L120.00 216.41 L120.24 216.45 L120.75 213.80 L120.51 213.75 L120.26 213.71 L120.02 213.66 L119.77 213.61 L119.53 213.57 L119.28 213.52 L119.04 213.47 L118.80 213.42 L118.55 213.37 L118.31 213.33 L118.06 213.28 L117.82 213.23 L117.58 213.18 L117.33 213.13 L117.09 213.08 L116.85 213.03 L116.60 212.98 L116.36 212.93 L116.12 212.88 L115.87 212.83 L115.63 212.78 L115.39 212.72 L115.14 212.67 L114.90 212.62 L114.66 212.57 L114.42 212.51 L114.17 212.46 L113.93 212.41 L113.69 212.35 L113.45 212.30 L113.20 212.25 L112.96 212.19 L112.72 212.14 L112.48 212.08 L112.23 212.03 L111.99 211.97 L111.75 211.92 L111.51 211.86 L111.27 211.80 L111.02 211.75Z M131.88 218.43 L132.13 218.47 L132.37 218.50 L132.62 218.54 L132.87 218.58 L133.12 218.62 L133.37 218.65 L133.62 218.69 L133.86 218.73 L134.11 218.76 L134.36 218.80 L134.61 218.83 L134.86 218.87 L135.10 218.91 L135.35 218.94 L135.60 218.98 L135.85 219.01 L136.10 219.05 L136.35 219.08 L136.59 219.12 L136.84 219.15 L137.09 219.19 L137.34 219.22 L137.59 219.26 L137.84 219.29 L138.08 219.32 L138.33 219.36 L138.58 219.39 L138.83 219.43 L139.08 219.46 L139.33 219.49 L139.58 219.53 L139.82 219.56 L140.07 219.59 L140.32 219.62 L140.57 219.66 L140.82 219.69 L141.07 219.72 L141.32 219.75 L141.56 219.79 L141.81 219.82 L142.16 217.14 L141.91 217.11 L141.66 217.08 L141.42 217.05 L141.17 217.01 L140.92 216.98 L140.67 216.95 L140.43 216.92 L140.18 216.88 L139.93 216.85 L139.69 216.82 L139.44 216.78 L139.19 216.75 L138.94 216.72 L138.70 216.68 L138.45 216.65 L138.20 216.62 L137.96 216.58 L137.71 216.55 L137.46 216.51 L137.22 216.48 L136.97 216.44 L136.72 216.41 L136.48 216.37 L136.23 216.34 L135.98 216.30 L135.74 216.27 L135.49 216.23 L135.24 216.20 L135.00 216.16 L134.75 216.13 L134.50 216.09 L134.26 216.05 L134.01 216.02 L133.76 215.98 L133.52 215.95 L133.27 215.91 L133.02 215.87 L132.78 215.83 L132.53 215.80 L132.28 215.76Z M153.51 221.20 L153.76 221.22 L154.01 221.25 L154.26 221.28 L154.51 221.30 L154.75 221.33 L155.00 221.36 L155.25 221.38 L155.50 221.41 L155.75 221.43 L156.00 221.46 L156.25 221.49 L156.50 221.51 L156.75 221.54 L157.00 221.56 L157.25 221.59 L157.50 221.61 L157.74 221.64 L157.99 221.66 L158.24 221.69 L158.49 221.71 L158.74 221.74 L158.99 221.76 L159.24 221.79 L159.49 221.81 L159.74 221.84 L159.99 221.86 L160.24 221.89 L160.49 221.91 L160.73 221.94 L160.98 221.96 L161.23 221.99 L161.48 222.01 L161.73 222.03 L161.98 222.06 L162.23 222.08 L162.48 222.11 L162.73 222.13 L162.98 222.15 L163.23 222.18 L163.48 222.20 L163.73 219.51 L163.48 219.49 L163.23 219.46 L162.98 219.44 L162.74 219.42 L162.49 219.39 L162.24 219.37 L161.99 219.35 L161.74 219.32 L161.49 219.30 L161.25 219.27 L161.00 219.25 L160.75 219.23 L160.50 219.20 L160.25 219.18 L160.00 219.15 L159.76 219.13 L159.51 219.10 L159.26 219.08 L159.01 219.05 L158.76 219.03 L158.51 219.00 L158.27 218.98 L158.02 218.95 L157.77 218.93 L157.52 218.90 L157.27 218.88 L157.02 218.85 L156.78 218.83 L156.53 218.80 L156.28 218.77 L156.03 218.75 L155.78 218.72 L155.54 218.70 L155.29 218.67 L155.04 218.64 L154.79 218.62 L154.54 218.59 L154.29 218.57 L154.05 218.54 L153.80 218.51Z M175.20 223.22 L175.45 223.24 L175.70 223.26 L175.95 223.28 L176.20 223.30 L176.45 223.32 L176.70 223.34 L176.95 223.36 L177.20 223.38 L177.45 223.40 L177.69 223.42 L177.94 223.44 L178.19 223.46 L178.44 223.48 L178.69 223.50 L178.94 223.52 L179.19 223.54 L179.44 223.56 L179.69 223.58 L179.94 223.60 L180.19 223.62 L180.44 223.64 L180.69 223.66 L180.94 223.67 L181.19 223.69 L181.44 223.71 L181.69 223.73 L181.94 223.75 L182.19 223.77 L182.44 223.79 L182.69 223.81 L182.94 223.82 L183.19 223.84 L183.43 223.86 L183.68 223.88 L183.93 223.90 L184.18 223.92 L184.43 223.94 L184.68 223.95 L184.93 223.97 L185.18 223.99 L185.38 221.30 L185.13 221.28 L184.88 221.26 L184.63 221.24 L184.38 221.22 L184.13 221.21 L183.88 221.19 L183.63 221.17 L183.38 221.15 L183.14 221.13 L182.89 221.11 L182.64 221.10 L182.39 221.08 L182.14 221.06 L181.89 221.04 L181.64 221.02 L181.39 221.00 L181.14 220.98 L180.89 220.96 L180.65 220.94 L180.40 220.93 L180.15 220.91 L179.90 220.89 L179.65 220.87 L179.40 220.85 L179.15 220.83 L178.90 220.81 L178.65 220.79 L178.40 220.77 L178.16 220.75 L177.91 220.73 L177.66 220.71 L177.41 220.69 L177.16 220.67 L176.91 220.65 L176.66 220.63 L176.41 220.61 L176.16 220.59 L175.92 220.57 L175.67 220.55 L175.42 220.53Z M196.92 224.79 L197.17 224.80 L197.42 224.82 L197.67 224.84 L197.92 224.85 L198.17 224.87 L198.41 224.88 L198.66 224.90 L198.91 224.91 L199.16 224.93 L199.41 224.95 L199.66 224.96 L199.91 224.98 L200.16 224.99 L200.41 225.01 L200.66 225.02 L200.90 225.04 L201.14 225.06 L201.39 225.07 L201.64 225.09 L201.89 225.11 L202.14 225.13 L202.39 225.15 L202.64 225.17 L202.88 225.19 L203.13 225.21 L203.38 225.23 L203.63 225.25 L203.88 225.27 L204.13 225.29 L204.38 225.31 L204.63 225.32 L204.88 225.34 L205.13 225.36 L205.38 225.38 L205.63 225.40 L205.88 225.42 L206.13 225.44 L206.38 225.46 L206.63 225.47 L206.88 225.49 L207.08 222.80 L206.83 222.78 L206.58 222.76 L206.33 222.74 L206.08 222.73 L205.83 222.71 L205.58 222.69 L205.33 222.67 L205.08 222.65 L204.84 222.63 L204.59 222.61 L204.34 222.59 L204.09 222.58 L203.84 222.56 L203.59 222.54 L203.34 222.52 L203.09 222.50 L202.84 222.48 L202.59 222.46 L202.35 222.44 L202.10 222.42 L201.85 222.40 L201.60 222.38 L201.35 222.36 L201.09 222.34 L200.83 222.33 L200.58 222.31 L200.33 222.30 L200.08 222.28 L199.83 222.27 L199.58 222.25 L199.33 222.23 L199.08 222.22 L198.83 222.20 L198.58 222.19 L198.33 222.17 L198.09 222.16 L197.84 222.14 L197.59 222.12 L197.34 222.11 L197.09 222.09Z M218.61 226.32 L218.86 226.34 L219.11 226.35 L219.36 226.37 L219.61 226.39 L219.86 226.40 L220.11 226.42 L220.36 226.44 L220.60 226.45 L220.85 226.47 L221.10 226.49 L221.35 226.50 L221.60 226.52 L221.85 226.54 L222.10 226.55 L222.35 226.57 L222.60 226.58 L222.85 226.60 L223.10 226.62 L223.35 226.63 L223.60 226.65 L223.85 226.66 L224.10 226.68 L224.35 226.70 L224.60 226.71 L224.85 226.73 L225.10 226.74 L225.35 226.76 L225.60 226.78 L225.85 226.79 L226.10 226.81 L226.35 226.82 L226.60 226.84 L226.85 226.85 L227.10 226.87 L227.35 226.89 L227.60 226.90 L227.85 226.92 L228.09 226.93 L228.34 226.95 L228.59 226.96 L228.76 224.27 L228.51 224.25 L228.26 224.24 L228.01 224.22 L227.76 224.21 L227.51 224.19 L227.26 224.18 L227.02 224.16 L226.77 224.14 L226.52 224.13 L226.27 224.11 L226.02 224.10 L225.77 224.08 L225.52 224.07 L225.27 224.05 L225.02 224.03 L224.77 224.02 L224.52 224.00 L224.27 223.99 L224.02 223.97 L223.77 223.95 L223.52 223.94 L223.28 223.92 L223.03 223.91 L222.78 223.89 L222.53 223.87 L222.28 223.86 L222.03 223.84 L221.78 223.82 L221.53 223.81 L221.28 223.79 L221.03 223.78 L220.78 223.76 L220.53 223.74 L220.28 223.73 L220.03 223.71 L219.79 223.69 L219.54 223.68 L219.29 223.66 L219.04 223.64 L218.79 223.63Z M240.33 227.65 L240.58 227.67 L240.83 227.68 L241.08 227.70 L241.33 227.71 L241.58 227.72 L241.83 227.74 L242.08 227.75 L242.33 227.77 L242.58 227.78 L242.83 227.79 L243.08 227.81 L243.33 227.82 L243.58 227.83 L243.83 227.85 L244.08 227.86 L244.33 227.88 L244.58 227.89 L244.83 227.90 L245.08 227.92 L245.33 227.93 L245.58 227.94 L245.83 227.96 L246.08 227.97 L246.33 227.98 L246.58 228.00 L246.83 228.01 L247.07 228.02 L247.32 228.04 L247.57 228.05 L247.82 228.06 L248.07 228.08 L248.32 228.09 L248.57 228.10 L248.82 228.12 L249.07 228.13 L249.32 228.14 L249.57 228.16 L249.82 228.17 L250.07 228.18 L250.32 228.20 L250.46 225.50 L250.21 225.49 L249.96 225.47 L249.71 225.46 L249.46 225.45 L249.22 225.43 L248.97 225.42 L248.72 225.41 L248.47 225.39 L248.22 225.38 L247.97 225.37 L247.72 225.35 L247.47 225.34 L247.22 225.33 L246.97 225.31 L246.72 225.30 L246.47 225.29 L246.22 225.27 L245.97 225.26 L245.72 225.25 L245.47 225.23 L245.22 225.22 L244.97 225.21 L244.72 225.19 L244.47 225.18 L244.23 225.17 L243.98 225.15 L243.73 225.14 L243.48 225.12 L243.23 225.11 L242.98 225.10 L242.73 225.08 L242.48 225.07 L242.23 225.06 L241.98 225.04 L241.73 225.03 L241.48 225.01 L241.23 225.00 L240.98 224.99 L240.73 224.97 L240.48 224.96Z M262.06 228.78 L262.31 228.80 L262.56 228.81 L262.81 228.82 L263.06 228.83 L263.31 228.84 L263.56 228.86 L263.81 228.87 L264.06 228.88 L264.31 228.89 L264.56 228.90 L264.81 228.91 L265.06 228.93 L265.31 228.94 L265.56 228.95 L265.81 228.96 L266.06 228.97 L266.31 228.98 L266.56 229.00 L266.81 229.01 L267.06 229.02 L267.31 229.03 L267.56 229.04 L267.81 229.05 L268.06 229.07 L268.31 229.08 L268.56 229.09 L268.81 229.10 L269.06 229.11 L269.31 229.12 L269.56 229.13 L269.81 229.15 L270.06 229.16 L270.31 229.17 L270.56 229.18 L270.81 229.19 L271.06 229.20 L271.31 229.21 L271.56 229.23 L271.81 229.24 L272.06 229.25 L272.18 226.55 L271.93 226.54 L271.68 226.53 L271.43 226.52 L271.18 226.51 L270.93 226.49 L270.68 226.48 L270.43 226.47 L270.18 226.46 L269.93 226.45 L269.68 226.44 L269.43 226.43 L269.18 226.41 L268.93 226.40 L268.68 226.39 L268.43 226.38 L268.18 226.37 L267.93 226.36 L267.68 226.35 L267.43 226.33 L267.18 226.32 L266.94 226.31 L266.69 226.30 L266.44 226.29 L266.19 226.28 L265.94 226.26 L265.69 226.25 L265.44 226.24 L265.19 226.23 L264.94 226.22 L264.69 226.21 L264.44 226.19 L264.19 226.18 L263.94 226.17 L263.69 226.16 L263.44 226.15 L263.19 226.13 L262.94 226.12 L262.69 226.11 L262.44 226.10 L262.19 226.09Z M283.80 229.76 L284.05 229.77 L284.30 229.78 L284.55 229.79 L284.80 229.80 L285.05 229.81 L285.30 229.82 L285.55 229.83 L285.80 229.84 L286.05 229.85 L286.30 229.86 L286.55 229.87 L286.80 229.88 L287.05 229.89 L287.30 229.90 L287.55 229.91 L287.80 229.92 L288.05 229.93 L288.30 229.94 L288.55 229.95 L288.80 229.96 L289.05 229.97 L289.30 229.98 L289.55 229.99 L289.80 230.00 L290.05 230.01 L290.30 230.02 L290.55 230.03 L290.80 230.04 L291.05 230.05 L291.30 230.06 L291.55 230.07 L291.80 230.08 L292.05 230.09 L292.30 230.10 L292.55 230.11 L292.80 230.12 L293.05 230.13 L293.30 230.14 L293.54 230.15 L293.79 230.16 L293.90 227.46 L293.65 227.45 L293.40 227.44 L293.15 227.43 L292.90 227.42 L292.65 227.41 L292.40 227.40 L292.15 227.39 L291.90 227.38 L291.65 227.37 L291.40 227.36 L291.15 227.35 L290.90 227.34 L290.65 227.33 L290.40 227.32 L290.15 227.31 L289.91 227.30 L289.66 227.29 L289.41 227.28 L289.16 227.27 L288.91 227.26 L288.66 227.25 L288.41 227.24 L288.16 227.23 L287.91 227.22 L287.66 227.21 L287.41 227.20 L287.16 227.19 L286.91 227.18 L286.66 227.17 L286.41 227.16 L286.16 227.15 L285.91 227.14 L285.66 227.13 L285.41 227.12 L285.16 227.11 L284.91 227.10 L284.66 227.09 L284.41 227.08 L284.16 227.07 L283.91 227.06Z M305.54 230.61 L305.79 230.62 L306.04 230.62 L306.29 230.63 L306.54 230.64 L306.79 230.65 L307.04 230.66 L307.29 230.67 L307.54 230.68 L307.79 230.69 L308.04 230.70 L308.29 230.71 L308.54 230.72 L308.79 230.72 L309.04 230.73 L309.29 230.74 L309.54 230.75 L309.79 230.76 L310.04 230.77 L310.29 230.78 L310.54 230.79 L310.79 230.80 L311.04 230.80 L311.29 230.81 L311.54 230.82 L311.79 230.83 L312.04 230.84 L312.29 230.85 L312.54 230.86 L312.79 230.87 L313.04 230.88 L313.29 230.88 L313.54 230.89 L313.79 230.90 L314.04 230.91 L314.29 230.92 L314.54 230.93 L314.79 230.94 L315.04 230.95 L315.29 230.95 L315.54 230.96 L315.63 228.26 L315.38 228.26 L315.13 228.25 L314.88 228.24 L314.63 228.23 L314.38 228.22 L314.13 228.21 L313.88 228.20 L313.63 228.19 L313.38 228.19 L313.13 228.18 L312.88 228.17 L312.63 228.16 L312.38 228.15 L312.13 228.14 L311.88 228.13 L311.63 228.12 L311.38 228.12 L311.13 228.11 L310.88 228.10 L310.63 228.09 L310.38 228.08 L310.13 228.07 L309.88 228.06 L309.64 228.05 L309.39 228.04 L309.14 228.04 L308.89 228.03 L308.64 228.02 L308.39 228.01 L308.14 228.00 L307.89 227.99 L307.64 227.98 L307.39 227.97 L307.14 227.96 L306.89 227.95 L306.64 227.94 L306.39 227.94 L306.14 227.93 L305.89 227.92 L305.64 227.91Z M327.28 231.36 L327.53 231.36 L327.78 231.37 L328.03 231.38 L328.28 231.39 L328.53 231.40 L328.78 231.41 L329.03 231.41 L329.28 231.42 L329.53 231.43 L329.78 231.44 L330.03 231.45 L330.28 231.45 L330.53 231.46 L330.78 231.47 L331.03 231.48 L331.28 231.49 L331.53 231.49 L331.78 231.50 L332.03 231.51 L332.28 231.52 L332.53 231.53 L332.78 231.53 L333.03 231.54 L333.28 231.55 L333.53 231.56 L333.78 231.56 L334.03 231.57 L334.28 231.58 L334.53 231.59 L334.78 231.60 L335.03 231.60 L335.28 231.61 L335.53 231.62 L335.78 231.63 L336.03 231.63 L336.28 231.64 L336.53 231.65 L336.78 231.66 L337.03 231.67 L337.28 231.67 L337.36 228.97 L337.11 228.97 L336.86 228.96 L336.61 228.95 L336.36 228.94 L336.11 228.94 L335.86 228.93 L335.61 228.92 L335.36 228.91 L335.11 228.91 L334.86 228.90 L334.61 228.89 L334.37 228.88 L334.12 228.87 L333.87 228.87 L333.62 228.86 L333.37 228.85 L333.12 228.84 L332.87 228.83 L332.62 228.83 L332.37 228.82 L332.12 228.81 L331.87 228.80 L331.62 228.79 L331.37 228.79 L331.12 228.78 L330.87 228.77 L330.62 228.76 L330.37 228.76 L330.12 228.75 L329.87 228.74 L329.62 228.73 L329.37 228.72 L329.12 228.71 L328.87 228.71 L328.62 228.70 L328.37 228.69 L328.12 228.68 L327.87 228.67 L327.62 228.67 L327.37 228.66Z " fill="#D95319"/>
</g>
<g id="legend">
<rect x="203.5" y="33.1" width="127" height="30.4" fill="#fff" stroke="#454545" stroke-width="1"/>
<path d="M206.2 41.0H233.2" stroke="#0072BD" stroke-width="3.20"/>
<path d="M206.2 55.6H233.2" stroke="#D95319" stroke-width="3.20" stroke-dasharray="10.6 11.4"/>
</g>
<g id="right-axes">
<path d="M445.0 26.0V250.9" stroke="#0072BD" stroke-width="0.85" fill="none"/>
<path d="M705.5 26.0V250.9" stroke="#D95319" stroke-width="0.85" fill="none"/>
<path d="M445.0 250.40h3 M445.0 213.08h3 M445.0 175.77h3 M445.0 138.45h3 M445.0 101.13h3 M445.0 63.82h3 M445.0 26.50h3 " stroke="#0072BD" stroke-width="0.85" fill="none"/>
<path d="M705.5 250.40h-3 M705.5 213.08h-3 M705.5 175.77h-3 M705.5 138.45h-3 M705.5 101.13h-3 M705.5 63.82h-3 M705.5 26.50h-3 " stroke="#D95319" stroke-width="0.85" fill="none"/>
<path d="M444.5 250.4H706.0 M444.5 26.5H706.0" stroke="#454545" stroke-width="1.00" fill="none"/>
<path d="M445.00 250.4v-3 M445.00 26.5v3 M510.12 250.4v-3 M510.12 26.5v3 M575.25 250.4v-3 M575.25 26.5v3 M640.38 250.4v-3 M640.38 26.5v3 M705.50 250.4v-3 M705.50 26.5v3 " stroke="#454545" stroke-width="1.00" fill="none"/>
</g>
<g clip-path="url(#cr)">
<g clip-path="url(#bars)">
<rect x="444" y="26" width="262" height="225" fill="#4596d3"/>
<path d="M447.90 26V251 M450.51 26V251 M453.12 26V251 M455.73 26V251 M458.34 26V251 M460.95 26V251 M463.56 26V251 M466.17 26V251 M468.78 26V251 M471.39 26V251 M474.00 26V251 M476.61 26V251 M479.22 26V251 M481.83 26V251 M484.44 26V251 M487.05 26V251 M489.66 26V251 M492.27 26V251 M494.88 26V251 M497.49 26V251 M500.10 26V251 M502.71 26V251 M505.32 26V251 M507.93 26V251 M510.54 26V251 M513.15 26V251 M515.76 26V251 M518.37 26V251 M520.98 26V251 M523.59 26V251 M526.20 26V251 M528.81 26V251 M531.42 26V251 M534.03 26V251 M536.64 26V251 M539.25 26V251 M541.86 26V251 M544.47 26V251 M547.08 26V251 M549.69 26V251 M552.30 26V251 M554.91 26V251 M557.52 26V251 M560.13 26V251 M562.74 26V251 M565.35 26V251 M567.96 26V251 M570.57 26V251 M573.18 26V251 M575.79 26V251 M578.40 26V251 M581.01 26V251 M583.62 26V251 M586.23 26V251 M588.84 26V251 M591.45 26V251 M594.06 26V251 M596.67 26V251 M599.28 26V251 M601.89 26V251 M604.50 26V251 M607.11 26V251 M609.72 26V251 M612.33 26V251 M614.94 26V251 M617.55 26V251 M620.16 26V251 M622.77 26V251 M625.38 26V251 M627.99 26V251 M630.60 26V251 M633.21 26V251 M635.82 26V251 M638.43 26V251 M641.04 26V251 M643.65 26V251 M646.26 26V251 M648.87 26V251 M651.48 26V251 M654.09 26V251 M656.70 26V251 M659.31 26V251 M661.92 26V251 M664.53 26V251 M667.14 26V251 M669.75 26V251 M672.36 26V251 M674.97 26V251 M677.58 26V251 M680.19 26V251 M682.80 26V251 M685.41 26V251 M688.02 26V251 M690.63 26V251 M693.24 26V251 M695.85 26V251 M698.46 26V251 M701.07 26V251 M703.68 26V251 " stroke="#2a84c7" stroke-width="1.2" fill="none"/>
</g>
<path d="M444.76 240.38 L444.80 235.49 L444.83 231.06 L444.87 227.01 L444.90 223.29 L444.93 219.86 L444.97 216.67 L445.00 213.70 L445.04 210.91 L445.07 208.30 L445.10 205.84 L445.14 203.51 L445.17 201.31 L445.21 199.22 L445.24 197.23 L445.28 195.34 L445.31 193.53 L445.34 191.81 L445.38 190.15 L445.41 188.57 L445.44 187.04 L445.48 185.58 L445.51 184.17 L445.55 182.81 L445.58 181.50 L445.61 180.24 L445.65 179.02 L445.68 177.83 L445.72 176.69 L445.75 175.58 L445.78 174.51 L445.82 173.47 L445.85 172.46 L445.89 171.48 L445.92 170.52 L445.95 169.60 L445.99 168.69 L446.02 167.82 L446.05 166.96 L446.09 166.13 L446.12 165.31 L446.16 164.52 L446.19 163.75 L446.22 162.99 L446.26 162.26 L446.29 161.54 L446.32 160.83 L446.36 160.15 L446.39 159.47 L446.43 158.82 L446.46 158.17 L446.49 157.54 L446.53 156.92 L446.56 156.32 L446.59 155.73 L446.63 155.15 L446.66 154.58 L446.70 154.02 L446.73 153.47 L446.76 152.94 L446.80 152.41 L446.83 151.90 L446.86 151.39 L446.90 150.89 L446.93 150.40 L446.96 149.92 L447.00 149.45 L447.03 148.99 L447.07 148.53 L447.10 148.08 L447.13 147.64 L447.17 147.21 L447.20 146.78 L447.23 146.36 L447.27 145.95 L447.30 145.55 L447.33 145.15 L447.37 144.75 L447.40 144.37 L447.43 143.99 L447.47 143.61 L447.50 143.24 L447.53 142.88 L447.57 142.52 L447.60 142.17 L447.63 141.82 L447.67 141.47 L447.70 141.14 L447.73 140.80 L447.77 140.47 L447.80 140.15 L447.84 139.83 L447.87 139.52 L447.90 139.21 L447.94 138.90 L447.97 138.60 L448.00 138.30 L448.04 138.00 L448.07 137.71 L448.10 137.43 L448.14 137.15 L448.17 136.87 L448.20 136.59 L448.24 136.32 L448.27 136.05 L448.30 135.78 L448.34 135.52 L448.37 135.26 L448.40 135.01 L448.44 134.76 L448.47 134.51 L448.50 134.26 L448.54 134.02 L448.57 133.78 L448.60 133.54 L448.64 133.31 L448.67 133.07 L448.70 132.85 L448.74 132.62 L448.77 132.40 L448.80 132.17 L448.83 131.96 L448.87 131.74 L448.90 131.53 L448.93 131.31 L448.97 131.11 L449.00 130.90 L449.03 130.69 L449.07 130.49 L449.10 130.29 L449.13 130.09 L449.17 129.90 L449.20 129.71 L449.23 129.51 L449.27 129.32 L449.30 129.14 L449.33 128.95 L449.37 128.77 L449.40 128.59 L449.43 128.41 L449.46 128.23 L449.50 128.05 L449.53 127.88 L449.56 127.71 L449.60 127.54 L449.63 127.37 L449.66 127.20 L449.70 127.04 L449.73 126.87 L449.76 126.71 L449.80 126.55 L449.83 126.39 L449.86 126.24 L449.90 126.08 L449.93 125.93 L449.96 125.77 L449.99 125.62 L450.03 125.47 L450.06 125.32 L450.09 125.18 L450.13 125.03 L450.16 124.89 L450.19 124.75 L450.23 124.61 L450.26 124.47 L450.29 124.33 L450.32 124.19 L450.36 124.05 L450.39 123.92 L450.42 123.79 L450.46 123.65 L450.49 123.52 L450.52 123.39 L450.56 123.26 L450.59 123.14 L450.62 123.01 L450.65 122.89 L450.69 122.76 L450.72 122.64 L450.75 122.52 L450.79 122.40 L450.82 122.28 L450.85 122.16 L450.88 122.04 L450.92 121.93 L450.95 121.81 L450.98 121.70 L451.02 121.58 L451.05 121.47 L451.08 121.36 L451.11 121.25 L451.15 121.14 L451.18 121.03 L451.21 120.92 L451.25 120.82 L451.28 120.71 L451.31 120.61 L451.34 120.50 L451.38 120.40 L451.41 120.30 L451.44 120.20 L451.48 120.10 L451.51 120.00 L451.54 119.90 L451.57 119.80 L451.61 119.70 L451.64 119.61 L451.67 119.51 L451.71 119.42 L451.74 119.33 L451.77 119.23 L451.80 119.14 L451.84 119.05 L451.87 118.96 L451.90 118.87 L451.94 118.78 L451.97 118.69 L452.00 118.60 L452.03 118.52 L452.07 118.43 L452.10 118.34 L452.13 118.26 L452.16 118.18 L452.20 118.09 L452.23 118.01 L452.26 117.93 L452.30 117.85 L452.33 117.77 L452.36 117.69 L452.39 117.61 L452.43 117.53 L452.46 117.45 L452.49 117.37 L452.52 117.30 L452.56 117.22 L452.59 117.14 L452.62 117.07 L452.66 116.99 L452.69 116.92 L452.72 116.85 L452.75 116.77 L452.79 116.70 L452.82 116.63 L452.85 116.56 L452.88 116.49 L452.92 116.42 L452.95 116.35 L452.98 116.28 L453.01 116.21 L453.05 116.15 L453.08 116.08 L453.11 116.01 L453.14 115.95 L453.18 115.88 L453.21 115.82 L453.24 115.75 L453.28 115.69 L453.31 115.62 L453.34 115.56 L453.37 115.50 L453.41 115.44 L453.44 115.37 L453.47 115.31 L453.50 115.25 L453.54 115.19 L453.57 115.13 L453.60 115.07 L453.63 115.02 L453.67 114.96 L453.70 114.90 L453.73 114.84 L453.76 114.78 L453.80 114.73 L453.83 114.67 L453.86 114.62 L453.89 114.56 L453.93 114.51 L453.96 114.45 L453.99 114.40 L454.02 114.34 L454.06 114.29 L454.09 114.24 L454.12 114.19 L454.16 114.13 L454.19 114.08 L454.22 114.03 L454.25 113.98 L454.29 113.93 L454.32 113.88 L454.35 113.83 L454.38 113.78 L454.42 113.73 L454.45 113.69 L454.48 113.64 L454.51 113.59 L454.55 113.54 L454.58 113.50 L454.61 113.45 L454.64 113.40 L454.68 113.36 L454.71 113.31 L454.74 113.27 L454.77 113.22 L454.81 113.18 L454.84 113.13 L454.87 113.09 L454.90 113.05 L454.94 113.00 L454.97 112.96 L455.00 112.92 L455.03 112.88 L455.06 112.83 L455.10 112.79 L455.13 112.75 L455.16 112.71 L455.19 112.67 L455.23 112.63 L455.26 112.59 L455.29 112.55 L455.32 112.51 L455.36 112.47 L455.39 112.43 L455.42 112.39 L455.45 112.36 L455.49 112.32 L455.52 112.28 L455.55 112.24 L455.58 112.21 L455.62 112.17 L455.65 112.13 L455.68 112.10 L455.71 112.06 L455.75 112.03 L455.78 111.99 L455.81 111.96 L455.84 111.92 L455.88 111.89 L455.91 111.85 L455.94 111.82 L455.97 111.79 L456.01 111.75 L456.04 111.72 L456.07 111.69 L456.10 111.65 L456.13 111.62 L456.17 111.59 L456.20 111.56 L456.23 111.53 L456.26 111.50 L456.30 111.46 L456.33 111.43 L456.36 111.40 L456.39 111.37 L456.43 111.34 L456.46 111.31 L456.49 111.28 L456.52 111.25 L456.56 111.22 L456.59 111.20 L456.62 111.17 L456.65 111.14 L456.68 111.11 L456.72 111.08 L456.75 111.05 L456.78 111.03 L456.81 111.00 L456.85 110.97 L456.88 110.95 L456.91 110.92 L456.94 110.89 L456.98 110.87 L457.01 110.84 L457.04 110.81 L457.07 110.79 L457.10 110.76 L457.14 110.74 L457.17 110.71 L457.20 110.69 L457.23 110.66 L457.27 110.64 L457.30 110.62 L457.33 110.59 L457.36 110.57 L457.40 110.54 L457.43 110.52 L457.46 110.50 L457.49 110.48 L457.52 110.45 L457.56 110.43 L457.59 110.41 L457.62 110.39 L457.65 110.36 L457.69 110.34 L457.72 110.32 L457.75 110.30 L457.78 110.28 L457.81 110.26 L457.85 110.24 L457.88 110.22 L457.91 110.19 L458.54 109.83 L459.17 109.53 L459.80 109.28 L460.42 109.08 L461.05 108.92 L461.68 108.80 L462.30 108.72 L462.93 108.68 L463.55 108.66 L464.18 108.67 L464.80 108.71 L465.42 108.77 L466.05 108.85 L466.67 108.95 L467.29 109.07 L467.92 109.21 L468.54 109.36 L469.16 109.53 L469.78 109.71 L470.41 109.90 L471.03 110.11 L471.65 110.33 L472.27 110.55 L472.89 110.79 L473.52 111.03 L474.14 111.29 L474.76 111.55 L475.38 111.82 L476.00 112.09 L476.62 112.37 L477.24 112.66 L477.86 112.96 L478.48 113.25 L479.11 113.56 L479.73 113.87 L480.35 114.18 L480.97 114.50 L481.59 114.82 L482.21 115.14 L482.83 115.47 L483.45 115.81 L484.07 116.14 L484.69 116.51 L485.31 116.88 L485.93 117.25 L486.55 117.63 L487.17 118.00 L487.79 118.38 L488.41 118.77 L489.03 119.15 L489.66 119.54 L490.28 119.92 L490.90 120.31 L491.52 120.70 L492.14 121.09 L492.76 121.49 L493.38 121.88 L494.00 122.28 L494.62 122.67 L495.24 123.07 L495.86 123.47 L496.48 123.87 L497.10 124.27 L497.72 124.67 L498.34 125.07 L498.96 125.48 L499.58 125.88 L500.20 126.29 L500.82 126.69 L501.44 127.10 L502.06 127.51 L502.68 127.91 L503.30 128.32 L503.92 128.73 L504.54 129.14 L505.16 129.55 L505.78 129.95 L506.40 130.36 L507.02 130.77 L507.64 131.18 L508.26 131.59 L508.88 132.00 L509.50 132.41 L510.12 132.82 L510.75 133.23 L511.37 133.64 L511.99 134.05 L512.61 134.46 L513.23 134.87 L513.85 135.27 L514.47 135.68 L515.09 136.09 L515.71 136.50 L516.33 136.91 L516.95 137.31 L517.57 137.70 L518.19 138.10 L518.81 138.49 L519.43 138.88 L520.05 139.28 L520.67 139.67 L521.29 140.06 L521.91 140.45 L522.53 140.85 L523.15 141.24 L523.77 141.63 L524.39 142.02 L525.01 142.41 L525.63 142.80 L526.25 143.19 L526.87 143.58 L527.49 143.97 L528.11 144.36 L528.73 144.74 L529.35 145.13 L529.97 145.52 L530.59 145.91 L531.21 146.29 L531.83 146.68 L532.45 147.07 L533.07 147.45 L533.69 147.84 L534.31 148.22 L534.93 148.61 L535.55 148.99 L536.17 149.37 L536.80 149.76 L537.42 150.14 L538.04 150.52 L538.66 150.90 L539.28 151.29 L539.90 151.67 L540.52 152.05 L541.14 152.43 L541.76 152.81 L542.38 153.19 L543.00 153.56 L543.62 153.92 L544.24 154.29 L544.86 154.65 L545.48 155.02 L546.10 155.38 L546.72 155.75 L547.34 156.11 L547.96 156.47 L548.58 156.83 L549.20 157.19 L549.82 157.55 L550.44 157.91 L551.06 158.27 L551.68 158.63 L552.30 158.99 L552.92 159.35 L553.54 159.71 L554.16 160.07 L554.78 160.42 L555.40 160.78 L556.02 161.14 L556.64 161.49 L557.26 161.85 L557.88 162.20 L558.50 162.56 L559.12 162.91 L559.74 163.26 L560.36 163.62 L560.98 163.97 L561.60 164.32 L562.22 164.67 L562.85 165.02 L563.47 165.36 L564.09 165.70 L564.71 166.04 L565.33 166.38 L565.95 166.72 L566.57 167.06 L567.19 167.40 L567.81 167.74 L568.43 168.08 L569.05 168.42 L569.67 168.76 L570.29 169.10 L570.91 169.43 L571.53 169.77 L572.15 170.11 L572.77 170.44 L573.39 170.78 L574.01 171.11 L574.63 171.44 L575.25 171.78 L575.87 172.11 L576.49 172.44 L577.11 172.78 L577.73 173.11 L578.35 173.44 L578.97 173.77 L579.59 174.10 L580.21 174.43 L580.83 174.76 L581.45 175.09 L582.07 175.42 L582.69 175.75 L583.31 176.07 L583.93 176.40 L584.55 176.73 L585.17 177.05 L585.79 177.38 L586.41 177.70 L587.03 178.03 L587.65 178.35 L588.27 178.68 L588.90 179.00 L589.52 179.32 L590.14 179.65 L590.76 179.97 L591.38 180.29 L592.00 180.61 L592.62 180.93 L593.24 181.25 L593.86 181.57 L594.48 181.89 L595.10 182.21 L595.72 182.53 L596.34 182.85 L596.96 183.17 L597.58 183.49 L598.20 183.80 L598.82 184.12 L599.44 184.44 L600.06 184.75 L600.68 185.07 L601.30 185.38 L601.92 185.71 L602.54 186.03 L603.16 186.36 L603.78 186.68 L604.40 187.00 L605.02 187.33 L605.64 187.65 L606.26 187.97 L606.88 188.29 L607.50 188.61 L608.12 188.93 L608.74 189.25 L609.36 189.57 L609.98 189.89 L610.60 190.21 L611.22 190.53 L611.84 190.85 L612.46 191.17 L613.08 191.49 L613.70 191.80 L614.32 192.12 L614.95 192.44 L615.57 192.75 L616.19 193.07 L616.81 193.38 L617.43 193.70 L618.05 194.01 L618.67 194.33 L619.29 194.64 L619.91 194.95 L620.53 195.27 L621.15 195.58 L621.77 195.89 L622.39 196.20 L623.01 196.51 L623.63 196.82 L624.25 197.13 L624.87 197.44 L625.49 197.75 L626.11 198.06 L626.73 198.37 L627.35 198.68 L627.97 198.99 L628.59 199.30 L629.21 199.60 L629.83 199.91 L630.45 200.22 L631.07 200.52 L631.69 200.83 L632.31 201.14 L632.93 201.44 L633.55 201.75 L634.17 202.05 L634.79 202.35 L635.41 202.66 L636.03 202.96 L636.65 203.26 L637.27 203.57 L637.89 203.87 L638.51 204.17 L639.13 204.47 L639.75 204.77 L640.37 205.07 L641.00 205.38 L641.62 205.68 L642.24 205.98 L642.86 206.27 L643.48 206.57 L644.10 206.87 L644.72 207.17 L645.34 207.47 L645.96 207.77 L646.58 208.06 L647.20 208.36 L647.82 208.66 L648.44 208.95 L649.06 209.25 L649.68 209.54 L650.30 209.84 L650.92 210.14 L651.54 210.43 L652.16 210.72 L652.78 211.02 L653.40 211.31 L654.02 211.60 L654.64 211.88 L655.26 212.17 L655.88 212.45 L656.50 212.73 L657.12 213.02 L657.74 213.30 L658.36 213.58 L658.98 213.86 L659.60 214.15 L660.22 214.43 L660.84 214.71 L661.46 214.99 L662.08 215.27 L662.70 215.55 L663.32 215.83 L663.94 216.11 L664.56 216.39 L665.18 216.67 L665.80 216.95 L666.42 217.23 L667.05 217.51 L667.67 217.78 L668.29 218.06 L668.91 218.34 L669.53 218.62 L670.15 218.89 L670.77 219.17 L671.39 219.44 L672.01 219.72 L672.63 220.00 L673.25 220.27 L673.87 220.55 L674.49 220.82 L675.11 221.09 L675.73 221.37 L676.35 221.64 L676.97 221.91 L677.59 222.19 L678.21 222.46 L678.83 222.73 L679.45 223.00 L680.07 223.28 L680.69 223.55 L681.31 223.82 L681.93 224.09 L682.55 224.36 L683.17 224.63 L683.79 224.90 L684.41 225.17 L685.03 225.44 L685.65 225.71 L686.27 225.98 L686.89 226.25 L687.51 226.51 L688.13 226.78 L688.75 227.05 L689.37 227.32 L689.99 227.58 L690.61 227.85 L691.23 228.12 L691.85 228.38 L692.47 228.65 L693.10 228.92 L693.72 229.18 L694.34 229.45 L694.96 229.71 L695.58 229.98 L696.20 230.25 L696.82 230.51 L697.44 230.78 L698.06 231.04 L698.68 231.31 L699.30 231.57 L699.92 231.83 L700.54 232.10 L701.16 232.36 L701.78 232.63 L702.40 232.89 L703.02 233.15 L703.64 233.41 L704.26 233.68 L704.88 233.94 L705.50 234.20" stroke="#D95319" stroke-width="2.70" fill="none" stroke-linejoin="round"/>
</g>
<path d="M445.0 26.0V250.9" stroke="#0072BD" stroke-width="1.1" stroke-opacity="0.6" fill="none"/>
<path d="M705.5 26.0V250.9" stroke="#D95319" stroke-width="0.85" fill="none"/>
<g font-family="'Liberation Sans', Arial, sans-serif" fill="#262626">
<g font-size="12.60" text-anchor="middle">
<text x="44.0" y="268">0</text>
<text x="116.7" y="268">500,000</text>
<text x="191.8" y="268">1,000,000</text>
<text x="266.4" y="268">1,500,000</text>
<text x="338.7" y="268">2,000,000</text>
<text x="445.0" y="268">0</text>
<text x="509.5" y="268">500,000</text>
<text x="575.9" y="268">1,000,000</text>
<text x="641.3" y="268">1,500,000</text>
<text x="705.8" y="268">2,000,000</text>
</g>
<g font-size="12.60" text-anchor="end">
<text x="39.3" y="254.3">0</text>
<text x="39.3" y="198.3">1</text>
<text x="39.3" y="142.3">2</text>
<text x="39.3" y="86.4">3</text>
<text x="39.3" y="30.4">4</text>
</g>
<g font-size="12.60" text-anchor="end" fill="#0072BD">
<text x="440.3" y="254.4">-0.1</text>
<text x="440.3" y="217.1">-0.05</text>
<text x="440.3" y="179.8">0</text>
<text x="440.3" y="142.4">0.05</text>
<text x="440.3" y="105.1">0.1</text>
<text x="440.3" y="67.8">0.15</text>
<text x="440.3" y="30.5">0.2</text>
</g>
<g font-size="12.60" text-anchor="start" fill="#D95319">
<text x="709.8" y="254.4">-10</text>
<text x="709.8" y="217.1">-5</text>
<text x="709.8" y="179.8">0</text>
<text x="709.8" y="142.4">5</text>
<text x="709.8" y="105.1">10</text>
<text x="709.8" y="67.8">15</text>
<text x="709.8" y="30.5">20</text>
</g>
<g font-size="13.75" text-anchor="middle">
<text x="191" y="285.7">raw intensity [-]</text>
<text x="575.2" y="286.3">raw intensity [-]</text>
<text x="191.2" y="19.2" font-weight="bold" fill="#000">HDS - raw (508 kHz)</text>
<text x="575.3" y="19.8" font-weight="bold" fill="#000">HDS - raw (508 kHz)</text>
</g>
<g font-size="11.4">
<text x="235.3" y="45.3">Spectralon targets</text>
<text x="235.3" y="60.5">Paper targets</text>
</g>
<text transform="translate(20.5 161.6) rotate(-90)" fill="#262626"><tspan x="0.0" y="0.0" font-size="14.50" font-style="italic" font-family="'Liberation Serif', serif">σ</tspan><tspan x="7.8" y="6.5" font-size="9.60">r</tspan><tspan x="15.7" y="0.0" font-size="13.75">[mm]</tspan></text>
<text transform="translate(394.2 166.3) rotate(-90)" fill="#0072BD"><tspan x="-0.4" y="0.0" font-size="14.80">Δ</tspan><tspan x="11.3" y="6.5" font-size="10.30" font-style="italic" font-family="'Liberation Serif', serif">σ</tspan><tspan x="18.0" y="13.0" font-size="7.30">r</tspan><tspan x="25.8" y="0.0" font-size="13.75">[mm]</tspan></text>
<text transform="translate(745.1 172.0) rotate(-90)" fill="#D95319"><tspan x="-0.4" y="0.0" font-size="14.80">Δ</tspan><tspan x="10.6" y="6.5" font-size="10.30" font-style="italic" font-family="'Liberation Serif', serif">σ</tspan><tspan x="17.0" y="12.7" font-size="7.30">r</tspan><tspan x="24.5" y="0.0" font-size="13.75">/</tspan><tspan x="32.7" y="0.0" font-size="14.50" font-style="italic" font-family="'Liberation Serif', serif">σ</tspan><tspan x="40.6" y="6.0" font-size="9.60">r</tspan><tspan x="48.9" y="0.0" font-size="13.75">[%]</tspan></text>
</g>
</svg>
</body></html>
